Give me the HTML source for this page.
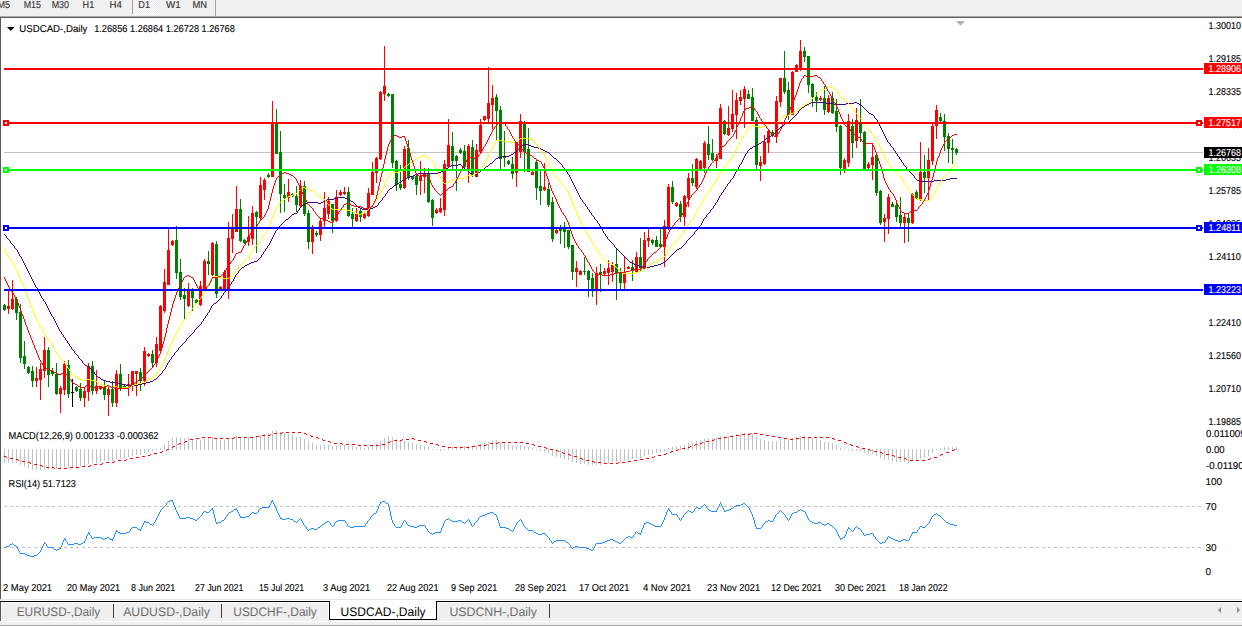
<!DOCTYPE html><html><head><meta charset="utf-8"><title>USDCAD-,Daily</title><style>
html,body{margin:0;padding:0;width:1242px;height:626px;overflow:hidden;background:#fff}
svg{display:block}text{font-family:"Liberation Sans",sans-serif;text-rendering:geometricPrecision;stroke:currentColor;stroke-width:0.12px;paint-order:stroke}
</style></head><body>
<svg width="1242" height="626" viewBox="0 0 1242 626">
<rect x="0" y="0" width="1242" height="626" fill="#fff"/>
<g shape-rendering="crispEdges">
<rect x="0" y="0" width="1242" height="16" fill="#f0f0f0"/>
<defs><pattern id="dith" x="0" y="0" width="2" height="2" patternUnits="userSpaceOnUse"><rect width="2" height="2" fill="#fbfbfb"/><rect width="1" height="1" fill="#ebebeb"/><rect x="1" y="1" width="1" height="1" fill="#ebebeb"/></pattern></defs>
<rect x="133" y="0" width="24" height="14" fill="url(#dith)"/>
<rect x="133" y="14" width="25" height="1" fill="#ffffff"/>
<rect x="132" y="0" width="1" height="14" fill="#a0a0a0"/>
<rect x="215" y="0" width="1" height="16" fill="#a0a0a0"/>
<rect x="0" y="16" width="1242" height="1" fill="#a8a8a8"/>
<rect x="0" y="17" width="1242" height="1" fill="#5f5f5f"/>
</g>
<text x="-2.5" y="8" font-size="10" fill="#303030" color="#303030" textLength="12.6" lengthAdjust="spacingAndGlyphs">M5</text>
<text x="23.7" y="8" font-size="10" fill="#303030" color="#303030" textLength="17.3" lengthAdjust="spacingAndGlyphs">M15</text>
<text x="51.7" y="8" font-size="10" fill="#303030" color="#303030" textLength="17.3" lengthAdjust="spacingAndGlyphs">M30</text>
<text x="82.6" y="8" font-size="10" fill="#303030" color="#303030" textLength="11.6" lengthAdjust="spacingAndGlyphs">H1</text>
<text x="109.6" y="8" font-size="10" fill="#303030" color="#303030" textLength="12.4" lengthAdjust="spacingAndGlyphs">H4</text>
<text x="138.3" y="8" font-size="10" fill="#303030" color="#303030" textLength="11.7" lengthAdjust="spacingAndGlyphs">D1</text>
<text x="166" y="8" font-size="10" fill="#303030" color="#303030" textLength="14.6" lengthAdjust="spacingAndGlyphs">W1</text>
<text x="192.4" y="8" font-size="10" fill="#303030" color="#303030" textLength="14.6" lengthAdjust="spacingAndGlyphs">MN</text>
<rect x="0" y="18" width="1" height="584" fill="#5a5a5a" shape-rendering="crispEdges"/>
<path d="M7 27 L14.5 27 L10.75 31 Z" fill="#000"/>
<text x="19.3" y="32" font-size="10" fill="#000" color="#000" textLength="68.1" lengthAdjust="spacingAndGlyphs">USDCAD-,Daily</text>
<text x="94.2" y="32" font-size="10" fill="#000" color="#000" textLength="140.6" lengthAdjust="spacingAndGlyphs">1.26856 1.26864 1.26728 1.26768</text>
<path d="M956 21 L965 21 L960.5 25.8 Z" fill="#b4b4b4"/>
<text x="1208.6" y="29" font-size="10" fill="#000" color="#000" textLength="32.3" lengthAdjust="spacingAndGlyphs">1.30010</text>
<text x="1208.6" y="62" font-size="10" fill="#000" color="#000" textLength="32.3" lengthAdjust="spacingAndGlyphs">1.29185</text>
<text x="1208.6" y="95" font-size="10" fill="#000" color="#000" textLength="32.3" lengthAdjust="spacingAndGlyphs">1.28335</text>
<text x="1208.6" y="128" font-size="10" fill="#000" color="#000" textLength="32.3" lengthAdjust="spacingAndGlyphs">1.27485</text>
<text x="1208.6" y="161" font-size="10" fill="#000" color="#000" textLength="32.3" lengthAdjust="spacingAndGlyphs">1.26635</text>
<text x="1208.6" y="194" font-size="10" fill="#000" color="#000" textLength="32.3" lengthAdjust="spacingAndGlyphs">1.25785</text>
<text x="1208.6" y="227" font-size="10" fill="#000" color="#000" textLength="32.3" lengthAdjust="spacingAndGlyphs">1.24935</text>
<text x="1208.6" y="260" font-size="10" fill="#000" color="#000" textLength="32.3" lengthAdjust="spacingAndGlyphs">1.24110</text>
<text x="1208.6" y="293" font-size="10" fill="#000" color="#000" textLength="32.3" lengthAdjust="spacingAndGlyphs">1.23260</text>
<text x="1208.6" y="326" font-size="10" fill="#000" color="#000" textLength="32.3" lengthAdjust="spacingAndGlyphs">1.22410</text>
<text x="1208.6" y="359" font-size="10" fill="#000" color="#000" textLength="32.3" lengthAdjust="spacingAndGlyphs">1.21560</text>
<text x="1208.6" y="392" font-size="10" fill="#000" color="#000" textLength="32.3" lengthAdjust="spacingAndGlyphs">1.20710</text>
<text x="1208.6" y="425" font-size="10" fill="#000" color="#000" textLength="32.3" lengthAdjust="spacingAndGlyphs">1.19885</text>
<rect x="4" y="152" width="1199" height="1" fill="#c0c0c0" shape-rendering="crispEdges"/>
<g shape-rendering="crispEdges">
<rect x="4" y="304" width="1" height="7" fill="#008000"/>
<rect x="3" y="305" width="3" height="5" fill="#008000"/>
<rect x="8" y="290" width="1" height="24" fill="#ff0000"/>
<rect x="7" y="306" width="3" height="3" fill="#ff0000"/>
<rect x="12" y="280" width="1" height="30" fill="#ff0000"/>
<rect x="11" y="299" width="3" height="10" fill="#ff0000"/>
<rect x="16" y="297" width="1" height="23" fill="#008000"/>
<rect x="15" y="299" width="3" height="14" fill="#008000"/>
<rect x="20" y="304" width="1" height="59" fill="#008000"/>
<rect x="19" y="312" width="3" height="46" fill="#008000"/>
<rect x="24" y="341" width="1" height="28" fill="#008000"/>
<rect x="23" y="356" width="3" height="8" fill="#008000"/>
<rect x="28" y="366" width="1" height="8" fill="#008000"/>
<rect x="27" y="367" width="3" height="6" fill="#008000"/>
<rect x="32" y="366" width="1" height="21" fill="#008000"/>
<rect x="31" y="371" width="3" height="10" fill="#008000"/>
<rect x="36" y="367" width="1" height="20" fill="#ff0000"/>
<rect x="35" y="378" width="3" height="3" fill="#ff0000"/>
<rect x="40" y="363" width="1" height="37" fill="#ff0000"/>
<rect x="39" y="369" width="3" height="11" fill="#ff0000"/>
<rect x="44" y="337" width="1" height="41" fill="#ff0000"/>
<rect x="43" y="350" width="3" height="21" fill="#ff0000"/>
<rect x="48" y="347" width="1" height="40" fill="#008000"/>
<rect x="47" y="350" width="3" height="25" fill="#008000"/>
<rect x="52" y="368" width="1" height="8" fill="#008000"/>
<rect x="51" y="371" width="3" height="3" fill="#008000"/>
<rect x="56" y="363" width="1" height="32" fill="#008000"/>
<rect x="55" y="374" width="3" height="20" fill="#008000"/>
<rect x="60" y="386" width="1" height="27" fill="#ff0000"/>
<rect x="59" y="388" width="3" height="6" fill="#ff0000"/>
<rect x="64" y="361" width="1" height="34" fill="#ff0000"/>
<rect x="63" y="364" width="3" height="26" fill="#ff0000"/>
<rect x="68" y="360" width="1" height="38" fill="#008000"/>
<rect x="67" y="365" width="3" height="29" fill="#008000"/>
<rect x="72" y="379" width="1" height="28" fill="#000000"/>
<rect x="71" y="392" width="3" height="1" fill="#000000"/>
<rect x="76" y="386" width="1" height="6" fill="#008000"/>
<rect x="75" y="387" width="3" height="4" fill="#008000"/>
<rect x="80" y="383" width="1" height="18" fill="#008000"/>
<rect x="79" y="389" width="3" height="9" fill="#008000"/>
<rect x="84" y="387" width="1" height="20" fill="#ff0000"/>
<rect x="83" y="391" width="3" height="7" fill="#ff0000"/>
<rect x="88" y="363" width="1" height="38" fill="#ff0000"/>
<rect x="87" y="366" width="3" height="26" fill="#ff0000"/>
<rect x="92" y="361" width="1" height="34" fill="#008000"/>
<rect x="91" y="366" width="3" height="25" fill="#008000"/>
<rect x="96" y="370" width="1" height="24" fill="#ff0000"/>
<rect x="95" y="386" width="3" height="5" fill="#ff0000"/>
<rect x="100" y="386" width="1" height="4" fill="#ff0000"/>
<rect x="99" y="386" width="3" height="3" fill="#ff0000"/>
<rect x="104" y="381" width="1" height="19" fill="#008000"/>
<rect x="103" y="387" width="3" height="8" fill="#008000"/>
<rect x="108" y="385" width="1" height="31" fill="#ff0000"/>
<rect x="107" y="389" width="3" height="6" fill="#ff0000"/>
<rect x="112" y="381" width="1" height="26" fill="#008000"/>
<rect x="111" y="389" width="3" height="14" fill="#008000"/>
<rect x="116" y="370" width="1" height="37" fill="#ff0000"/>
<rect x="115" y="374" width="3" height="29" fill="#ff0000"/>
<rect x="120" y="364" width="1" height="27" fill="#008000"/>
<rect x="119" y="374" width="3" height="15" fill="#008000"/>
<rect x="124" y="384" width="1" height="5" fill="#008000"/>
<rect x="123" y="386" width="3" height="2" fill="#008000"/>
<rect x="128" y="374" width="1" height="22" fill="#ff0000"/>
<rect x="127" y="384" width="3" height="2" fill="#ff0000"/>
<rect x="132" y="371" width="1" height="20" fill="#ff0000"/>
<rect x="131" y="371" width="3" height="14" fill="#ff0000"/>
<rect x="136" y="371" width="1" height="25" fill="#ff0000"/>
<rect x="135" y="371" width="3" height="3" fill="#ff0000"/>
<rect x="140" y="368" width="1" height="23" fill="#008000"/>
<rect x="139" y="372" width="3" height="9" fill="#008000"/>
<rect x="144" y="347" width="1" height="39" fill="#ff0000"/>
<rect x="143" y="351" width="3" height="30" fill="#ff0000"/>
<rect x="148" y="353" width="1" height="4" fill="#ff0000"/>
<rect x="147" y="354" width="3" height="2" fill="#ff0000"/>
<rect x="152" y="350" width="1" height="17" fill="#008000"/>
<rect x="151" y="354" width="3" height="9" fill="#008000"/>
<rect x="156" y="337" width="1" height="30" fill="#ff0000"/>
<rect x="155" y="344" width="3" height="19" fill="#ff0000"/>
<rect x="160" y="305" width="1" height="47" fill="#ff0000"/>
<rect x="159" y="306" width="3" height="45" fill="#ff0000"/>
<rect x="164" y="269" width="1" height="44" fill="#ff0000"/>
<rect x="163" y="282" width="3" height="29" fill="#ff0000"/>
<rect x="168" y="229" width="1" height="56" fill="#ff0000"/>
<rect x="167" y="250" width="3" height="35" fill="#ff0000"/>
<rect x="172" y="240" width="1" height="6" fill="#ff0000"/>
<rect x="171" y="241" width="3" height="4" fill="#ff0000"/>
<rect x="176" y="226" width="1" height="53" fill="#008000"/>
<rect x="175" y="240" width="3" height="33" fill="#008000"/>
<rect x="180" y="259" width="1" height="41" fill="#008000"/>
<rect x="179" y="272" width="3" height="25" fill="#008000"/>
<rect x="184" y="288" width="1" height="32" fill="#008000"/>
<rect x="183" y="295" width="3" height="4" fill="#008000"/>
<rect x="188" y="283" width="1" height="24" fill="#ff0000"/>
<rect x="187" y="291" width="3" height="15" fill="#ff0000"/>
<rect x="192" y="288" width="1" height="23" fill="#008000"/>
<rect x="191" y="291" width="3" height="7" fill="#008000"/>
<rect x="196" y="299" width="1" height="5" fill="#008000"/>
<rect x="195" y="300" width="3" height="3" fill="#008000"/>
<rect x="200" y="281" width="1" height="25" fill="#ff0000"/>
<rect x="199" y="286" width="3" height="19" fill="#ff0000"/>
<rect x="204" y="259" width="1" height="30" fill="#ff0000"/>
<rect x="203" y="261" width="3" height="28" fill="#ff0000"/>
<rect x="208" y="251" width="1" height="24" fill="#008000"/>
<rect x="207" y="261" width="3" height="3" fill="#008000"/>
<rect x="212" y="242" width="1" height="34" fill="#ff0000"/>
<rect x="211" y="243" width="3" height="32" fill="#ff0000"/>
<rect x="216" y="241" width="1" height="57" fill="#008000"/>
<rect x="215" y="244" width="3" height="50" fill="#008000"/>
<rect x="220" y="286" width="1" height="5" fill="#ff0000"/>
<rect x="219" y="287" width="3" height="3" fill="#ff0000"/>
<rect x="224" y="270" width="1" height="20" fill="#ff0000"/>
<rect x="223" y="272" width="3" height="17" fill="#ff0000"/>
<rect x="228" y="222" width="1" height="77" fill="#ff0000"/>
<rect x="227" y="238" width="3" height="53" fill="#ff0000"/>
<rect x="232" y="214" width="1" height="39" fill="#ff0000"/>
<rect x="231" y="229" width="3" height="10" fill="#ff0000"/>
<rect x="236" y="186" width="1" height="46" fill="#ff0000"/>
<rect x="235" y="209" width="3" height="23" fill="#ff0000"/>
<rect x="240" y="199" width="1" height="43" fill="#008000"/>
<rect x="239" y="209" width="3" height="32" fill="#008000"/>
<rect x="244" y="239" width="1" height="5" fill="#008000"/>
<rect x="243" y="240" width="3" height="3" fill="#008000"/>
<rect x="248" y="216" width="1" height="30" fill="#ff0000"/>
<rect x="247" y="237" width="3" height="5" fill="#ff0000"/>
<rect x="252" y="206" width="1" height="39" fill="#ff0000"/>
<rect x="251" y="213" width="3" height="26" fill="#ff0000"/>
<rect x="256" y="211" width="1" height="42" fill="#008000"/>
<rect x="255" y="212" width="3" height="5" fill="#008000"/>
<rect x="260" y="177" width="1" height="44" fill="#ff0000"/>
<rect x="259" y="185" width="3" height="33" fill="#ff0000"/>
<rect x="264" y="178" width="1" height="22" fill="#ff0000"/>
<rect x="263" y="180" width="3" height="10" fill="#ff0000"/>
<rect x="268" y="173" width="1" height="5" fill="#008000"/>
<rect x="267" y="175" width="3" height="2" fill="#008000"/>
<rect x="272" y="101" width="1" height="76" fill="#ff0000"/>
<rect x="271" y="123" width="3" height="54" fill="#ff0000"/>
<rect x="276" y="109" width="1" height="45" fill="#008000"/>
<rect x="275" y="124" width="3" height="30" fill="#008000"/>
<rect x="280" y="131" width="1" height="82" fill="#008000"/>
<rect x="279" y="152" width="3" height="42" fill="#008000"/>
<rect x="284" y="184" width="1" height="28" fill="#008000"/>
<rect x="283" y="195" width="3" height="3" fill="#008000"/>
<rect x="288" y="179" width="1" height="23" fill="#ff0000"/>
<rect x="287" y="192" width="3" height="6" fill="#ff0000"/>
<rect x="292" y="193" width="1" height="4" fill="#008000"/>
<rect x="291" y="194" width="3" height="2" fill="#008000"/>
<rect x="296" y="186" width="1" height="26" fill="#008000"/>
<rect x="295" y="196" width="3" height="9" fill="#008000"/>
<rect x="300" y="180" width="1" height="27" fill="#ff0000"/>
<rect x="299" y="186" width="3" height="20" fill="#ff0000"/>
<rect x="304" y="181" width="1" height="35" fill="#008000"/>
<rect x="303" y="186" width="3" height="28" fill="#008000"/>
<rect x="308" y="210" width="1" height="39" fill="#008000"/>
<rect x="307" y="213" width="3" height="29" fill="#008000"/>
<rect x="312" y="225" width="1" height="29" fill="#ff0000"/>
<rect x="311" y="228" width="3" height="14" fill="#ff0000"/>
<rect x="316" y="231" width="1" height="6" fill="#008000"/>
<rect x="315" y="233" width="3" height="2" fill="#008000"/>
<rect x="320" y="218" width="1" height="23" fill="#ff0000"/>
<rect x="319" y="221" width="3" height="14" fill="#ff0000"/>
<rect x="324" y="192" width="1" height="35" fill="#ff0000"/>
<rect x="323" y="208" width="3" height="13" fill="#ff0000"/>
<rect x="328" y="197" width="1" height="22" fill="#ff0000"/>
<rect x="327" y="201" width="3" height="13" fill="#ff0000"/>
<rect x="332" y="204" width="1" height="29" fill="#008000"/>
<rect x="331" y="204" width="3" height="17" fill="#008000"/>
<rect x="336" y="190" width="1" height="32" fill="#ff0000"/>
<rect x="335" y="197" width="3" height="24" fill="#ff0000"/>
<rect x="340" y="190" width="1" height="6" fill="#ff0000"/>
<rect x="339" y="192" width="3" height="3" fill="#ff0000"/>
<rect x="344" y="187" width="1" height="8" fill="#ff0000"/>
<rect x="343" y="192" width="3" height="2" fill="#ff0000"/>
<rect x="348" y="187" width="1" height="30" fill="#008000"/>
<rect x="347" y="192" width="3" height="24" fill="#008000"/>
<rect x="352" y="208" width="1" height="19" fill="#008000"/>
<rect x="351" y="214" width="3" height="5" fill="#008000"/>
<rect x="356" y="208" width="1" height="14" fill="#ff0000"/>
<rect x="355" y="214" width="3" height="7" fill="#ff0000"/>
<rect x="360" y="208" width="1" height="14" fill="#008000"/>
<rect x="359" y="211" width="3" height="6" fill="#008000"/>
<rect x="364" y="213" width="1" height="6" fill="#ff0000"/>
<rect x="363" y="214" width="3" height="4" fill="#ff0000"/>
<rect x="368" y="188" width="1" height="29" fill="#ff0000"/>
<rect x="367" y="193" width="3" height="23" fill="#ff0000"/>
<rect x="372" y="162" width="1" height="33" fill="#ff0000"/>
<rect x="371" y="172" width="3" height="23" fill="#ff0000"/>
<rect x="376" y="157" width="1" height="26" fill="#ff0000"/>
<rect x="375" y="158" width="3" height="15" fill="#ff0000"/>
<rect x="380" y="91" width="1" height="69" fill="#ff0000"/>
<rect x="379" y="92" width="3" height="67" fill="#ff0000"/>
<rect x="384" y="46" width="1" height="55" fill="#ff0000"/>
<rect x="383" y="86" width="3" height="8" fill="#ff0000"/>
<rect x="388" y="93" width="1" height="4" fill="#008000"/>
<rect x="387" y="94" width="3" height="2" fill="#008000"/>
<rect x="392" y="94" width="1" height="74" fill="#008000"/>
<rect x="391" y="94" width="3" height="69" fill="#008000"/>
<rect x="396" y="160" width="1" height="31" fill="#008000"/>
<rect x="395" y="161" width="3" height="24" fill="#008000"/>
<rect x="400" y="165" width="1" height="25" fill="#008000"/>
<rect x="399" y="184" width="3" height="4" fill="#008000"/>
<rect x="404" y="146" width="1" height="43" fill="#ff0000"/>
<rect x="403" y="149" width="3" height="39" fill="#ff0000"/>
<rect x="408" y="140" width="1" height="40" fill="#008000"/>
<rect x="407" y="148" width="3" height="29" fill="#008000"/>
<rect x="412" y="176" width="1" height="4" fill="#008000"/>
<rect x="411" y="176" width="3" height="3" fill="#008000"/>
<rect x="416" y="173" width="1" height="22" fill="#008000"/>
<rect x="415" y="176" width="3" height="9" fill="#008000"/>
<rect x="420" y="161" width="1" height="34" fill="#ff0000"/>
<rect x="419" y="176" width="3" height="5" fill="#ff0000"/>
<rect x="424" y="168" width="1" height="25" fill="#ff0000"/>
<rect x="423" y="174" width="3" height="3" fill="#ff0000"/>
<rect x="428" y="168" width="1" height="35" fill="#008000"/>
<rect x="427" y="173" width="3" height="29" fill="#008000"/>
<rect x="432" y="199" width="1" height="27" fill="#008000"/>
<rect x="431" y="200" width="3" height="18" fill="#008000"/>
<rect x="436" y="208" width="1" height="6" fill="#ff0000"/>
<rect x="435" y="210" width="3" height="3" fill="#ff0000"/>
<rect x="440" y="198" width="1" height="15" fill="#ff0000"/>
<rect x="439" y="208" width="3" height="4" fill="#ff0000"/>
<rect x="444" y="160" width="1" height="56" fill="#ff0000"/>
<rect x="443" y="164" width="3" height="46" fill="#ff0000"/>
<rect x="448" y="119" width="1" height="49" fill="#ff0000"/>
<rect x="447" y="145" width="3" height="22" fill="#ff0000"/>
<rect x="452" y="132" width="1" height="38" fill="#008000"/>
<rect x="451" y="146" width="3" height="15" fill="#008000"/>
<rect x="456" y="155" width="1" height="36" fill="#008000"/>
<rect x="455" y="156" width="3" height="5" fill="#008000"/>
<rect x="460" y="148" width="1" height="6" fill="#008000"/>
<rect x="459" y="150" width="3" height="3" fill="#008000"/>
<rect x="464" y="145" width="1" height="23" fill="#008000"/>
<rect x="463" y="151" width="3" height="16" fill="#008000"/>
<rect x="468" y="144" width="1" height="39" fill="#ff0000"/>
<rect x="467" y="146" width="3" height="25" fill="#ff0000"/>
<rect x="472" y="140" width="1" height="37" fill="#008000"/>
<rect x="471" y="147" width="3" height="28" fill="#008000"/>
<rect x="476" y="144" width="1" height="33" fill="#ff0000"/>
<rect x="475" y="150" width="3" height="27" fill="#ff0000"/>
<rect x="480" y="119" width="1" height="35" fill="#ff0000"/>
<rect x="479" y="125" width="3" height="27" fill="#ff0000"/>
<rect x="484" y="116" width="1" height="5" fill="#ff0000"/>
<rect x="483" y="116" width="3" height="4" fill="#ff0000"/>
<rect x="488" y="67" width="1" height="55" fill="#ff0000"/>
<rect x="487" y="103" width="3" height="16" fill="#ff0000"/>
<rect x="492" y="85" width="1" height="44" fill="#ff0000"/>
<rect x="491" y="98" width="3" height="7" fill="#ff0000"/>
<rect x="496" y="94" width="1" height="46" fill="#008000"/>
<rect x="495" y="97" width="3" height="14" fill="#008000"/>
<rect x="500" y="106" width="1" height="64" fill="#008000"/>
<rect x="499" y="110" width="3" height="49" fill="#008000"/>
<rect x="504" y="131" width="1" height="36" fill="#008000"/>
<rect x="503" y="157" width="3" height="1" fill="#008000"/>
<rect x="508" y="160" width="1" height="5" fill="#008000"/>
<rect x="507" y="161" width="3" height="3" fill="#008000"/>
<rect x="512" y="157" width="1" height="22" fill="#008000"/>
<rect x="511" y="164" width="3" height="10" fill="#008000"/>
<rect x="516" y="141" width="1" height="46" fill="#ff0000"/>
<rect x="515" y="142" width="3" height="31" fill="#ff0000"/>
<rect x="520" y="114" width="1" height="44" fill="#ff0000"/>
<rect x="519" y="121" width="3" height="31" fill="#ff0000"/>
<rect x="524" y="121" width="1" height="51" fill="#008000"/>
<rect x="523" y="124" width="3" height="28" fill="#008000"/>
<rect x="528" y="128" width="1" height="44" fill="#008000"/>
<rect x="527" y="149" width="3" height="23" fill="#008000"/>
<rect x="532" y="171" width="1" height="4" fill="#ff0000"/>
<rect x="531" y="172" width="3" height="3" fill="#ff0000"/>
<rect x="536" y="160" width="1" height="40" fill="#008000"/>
<rect x="535" y="162" width="3" height="26" fill="#008000"/>
<rect x="540" y="171" width="1" height="34" fill="#008000"/>
<rect x="539" y="186" width="3" height="5" fill="#008000"/>
<rect x="544" y="163" width="1" height="28" fill="#ff0000"/>
<rect x="543" y="187" width="3" height="3" fill="#ff0000"/>
<rect x="548" y="183" width="1" height="24" fill="#008000"/>
<rect x="547" y="189" width="3" height="16" fill="#008000"/>
<rect x="552" y="197" width="1" height="45" fill="#008000"/>
<rect x="551" y="202" width="3" height="37" fill="#008000"/>
<rect x="556" y="229" width="1" height="5" fill="#ff0000"/>
<rect x="555" y="230" width="3" height="3" fill="#ff0000"/>
<rect x="560" y="225" width="1" height="19" fill="#008000"/>
<rect x="559" y="228" width="3" height="3" fill="#008000"/>
<rect x="564" y="222" width="1" height="26" fill="#008000"/>
<rect x="563" y="229" width="3" height="3" fill="#008000"/>
<rect x="568" y="230" width="1" height="19" fill="#008000"/>
<rect x="567" y="230" width="3" height="17" fill="#008000"/>
<rect x="572" y="245" width="1" height="35" fill="#008000"/>
<rect x="571" y="245" width="3" height="27" fill="#008000"/>
<rect x="576" y="261" width="1" height="26" fill="#ff0000"/>
<rect x="575" y="268" width="3" height="4" fill="#ff0000"/>
<rect x="580" y="270" width="1" height="5" fill="#ff0000"/>
<rect x="579" y="271" width="3" height="4" fill="#ff0000"/>
<rect x="584" y="257" width="1" height="18" fill="#008000"/>
<rect x="583" y="271" width="3" height="1" fill="#008000"/>
<rect x="588" y="270" width="1" height="27" fill="#008000"/>
<rect x="587" y="271" width="3" height="9" fill="#008000"/>
<rect x="592" y="273" width="1" height="24" fill="#008000"/>
<rect x="591" y="278" width="3" height="12" fill="#008000"/>
<rect x="596" y="267" width="1" height="38" fill="#ff0000"/>
<rect x="595" y="273" width="3" height="17" fill="#ff0000"/>
<rect x="600" y="264" width="1" height="28" fill="#008000"/>
<rect x="599" y="272" width="3" height="3" fill="#008000"/>
<rect x="604" y="268" width="1" height="7" fill="#ff0000"/>
<rect x="603" y="271" width="3" height="3" fill="#ff0000"/>
<rect x="608" y="260" width="1" height="25" fill="#ff0000"/>
<rect x="607" y="268" width="3" height="5" fill="#ff0000"/>
<rect x="612" y="262" width="1" height="20" fill="#ff0000"/>
<rect x="611" y="265" width="3" height="7" fill="#ff0000"/>
<rect x="616" y="249" width="1" height="51" fill="#008000"/>
<rect x="615" y="264" width="3" height="10" fill="#008000"/>
<rect x="620" y="268" width="1" height="21" fill="#008000"/>
<rect x="619" y="273" width="3" height="10" fill="#008000"/>
<rect x="624" y="257" width="1" height="32" fill="#ff0000"/>
<rect x="623" y="273" width="3" height="10" fill="#ff0000"/>
<rect x="628" y="266" width="1" height="3" fill="#ff0000"/>
<rect x="627" y="267" width="3" height="2" fill="#ff0000"/>
<rect x="632" y="260" width="1" height="21" fill="#008000"/>
<rect x="631" y="267" width="3" height="4" fill="#008000"/>
<rect x="636" y="252" width="1" height="21" fill="#ff0000"/>
<rect x="635" y="257" width="3" height="15" fill="#ff0000"/>
<rect x="640" y="238" width="1" height="34" fill="#008000"/>
<rect x="639" y="257" width="3" height="11" fill="#008000"/>
<rect x="644" y="232" width="1" height="38" fill="#ff0000"/>
<rect x="643" y="240" width="3" height="29" fill="#ff0000"/>
<rect x="648" y="229" width="1" height="18" fill="#ff0000"/>
<rect x="647" y="238" width="3" height="3" fill="#ff0000"/>
<rect x="652" y="239" width="1" height="6" fill="#008000"/>
<rect x="651" y="240" width="3" height="3" fill="#008000"/>
<rect x="656" y="236" width="1" height="11" fill="#008000"/>
<rect x="655" y="240" width="3" height="7" fill="#008000"/>
<rect x="660" y="229" width="1" height="19" fill="#008000"/>
<rect x="659" y="244" width="3" height="3" fill="#008000"/>
<rect x="664" y="220" width="1" height="47" fill="#ff0000"/>
<rect x="663" y="226" width="3" height="21" fill="#ff0000"/>
<rect x="668" y="184" width="1" height="46" fill="#ff0000"/>
<rect x="667" y="187" width="3" height="41" fill="#ff0000"/>
<rect x="672" y="181" width="1" height="23" fill="#008000"/>
<rect x="671" y="187" width="3" height="15" fill="#008000"/>
<rect x="676" y="202" width="1" height="5" fill="#ff0000"/>
<rect x="675" y="203" width="3" height="3" fill="#ff0000"/>
<rect x="680" y="201" width="1" height="21" fill="#008000"/>
<rect x="679" y="204" width="3" height="13" fill="#008000"/>
<rect x="684" y="195" width="1" height="31" fill="#ff0000"/>
<rect x="683" y="196" width="3" height="21" fill="#ff0000"/>
<rect x="688" y="173" width="1" height="34" fill="#ff0000"/>
<rect x="687" y="178" width="3" height="20" fill="#ff0000"/>
<rect x="692" y="164" width="1" height="22" fill="#008000"/>
<rect x="691" y="178" width="3" height="5" fill="#008000"/>
<rect x="696" y="158" width="1" height="31" fill="#ff0000"/>
<rect x="695" y="159" width="3" height="28" fill="#ff0000"/>
<rect x="700" y="160" width="1" height="9" fill="#ff0000"/>
<rect x="699" y="161" width="3" height="8" fill="#ff0000"/>
<rect x="704" y="141" width="1" height="32" fill="#ff0000"/>
<rect x="703" y="143" width="3" height="25" fill="#ff0000"/>
<rect x="708" y="126" width="1" height="34" fill="#008000"/>
<rect x="707" y="144" width="3" height="11" fill="#008000"/>
<rect x="712" y="139" width="1" height="22" fill="#008000"/>
<rect x="711" y="153" width="3" height="7" fill="#008000"/>
<rect x="716" y="154" width="1" height="14" fill="#ff0000"/>
<rect x="715" y="158" width="3" height="3" fill="#ff0000"/>
<rect x="720" y="104" width="1" height="55" fill="#ff0000"/>
<rect x="719" y="108" width="3" height="51" fill="#ff0000"/>
<rect x="724" y="120" width="1" height="15" fill="#008000"/>
<rect x="723" y="121" width="3" height="13" fill="#008000"/>
<rect x="728" y="106" width="1" height="30" fill="#ff0000"/>
<rect x="727" y="128" width="3" height="7" fill="#ff0000"/>
<rect x="732" y="90" width="1" height="42" fill="#ff0000"/>
<rect x="731" y="114" width="3" height="15" fill="#ff0000"/>
<rect x="736" y="93" width="1" height="46" fill="#ff0000"/>
<rect x="735" y="100" width="3" height="15" fill="#ff0000"/>
<rect x="740" y="90" width="1" height="15" fill="#ff0000"/>
<rect x="739" y="97" width="3" height="4" fill="#ff0000"/>
<rect x="744" y="86" width="1" height="42" fill="#ff0000"/>
<rect x="743" y="89" width="3" height="10" fill="#ff0000"/>
<rect x="748" y="90" width="1" height="9" fill="#008000"/>
<rect x="747" y="94" width="3" height="5" fill="#008000"/>
<rect x="752" y="88" width="1" height="33" fill="#008000"/>
<rect x="751" y="97" width="3" height="24" fill="#008000"/>
<rect x="756" y="117" width="1" height="52" fill="#008000"/>
<rect x="755" y="120" width="3" height="45" fill="#008000"/>
<rect x="760" y="156" width="1" height="25" fill="#ff0000"/>
<rect x="759" y="162" width="3" height="4" fill="#ff0000"/>
<rect x="764" y="135" width="1" height="30" fill="#ff0000"/>
<rect x="763" y="142" width="3" height="22" fill="#ff0000"/>
<rect x="768" y="130" width="1" height="23" fill="#ff0000"/>
<rect x="767" y="131" width="3" height="12" fill="#ff0000"/>
<rect x="772" y="130" width="1" height="7" fill="#008000"/>
<rect x="771" y="132" width="3" height="4" fill="#008000"/>
<rect x="776" y="96" width="1" height="47" fill="#ff0000"/>
<rect x="775" y="101" width="3" height="36" fill="#ff0000"/>
<rect x="780" y="78" width="1" height="29" fill="#ff0000"/>
<rect x="779" y="78" width="3" height="24" fill="#ff0000"/>
<rect x="784" y="51" width="1" height="43" fill="#008000"/>
<rect x="783" y="78" width="3" height="14" fill="#008000"/>
<rect x="788" y="82" width="1" height="38" fill="#008000"/>
<rect x="787" y="90" width="3" height="24" fill="#008000"/>
<rect x="792" y="71" width="1" height="44" fill="#ff0000"/>
<rect x="791" y="72" width="3" height="43" fill="#ff0000"/>
<rect x="796" y="64" width="1" height="8" fill="#ff0000"/>
<rect x="795" y="65" width="3" height="7" fill="#ff0000"/>
<rect x="800" y="40" width="1" height="31" fill="#ff0000"/>
<rect x="799" y="51" width="3" height="17" fill="#ff0000"/>
<rect x="804" y="47" width="1" height="15" fill="#008000"/>
<rect x="803" y="51" width="3" height="6" fill="#008000"/>
<rect x="808" y="56" width="1" height="37" fill="#008000"/>
<rect x="807" y="56" width="3" height="29" fill="#008000"/>
<rect x="812" y="83" width="1" height="24" fill="#008000"/>
<rect x="811" y="84" width="3" height="13" fill="#008000"/>
<rect x="816" y="92" width="1" height="20" fill="#008000"/>
<rect x="815" y="97" width="3" height="4" fill="#008000"/>
<rect x="820" y="96" width="1" height="5" fill="#ff0000"/>
<rect x="819" y="98" width="3" height="2" fill="#ff0000"/>
<rect x="824" y="86" width="1" height="29" fill="#008000"/>
<rect x="823" y="98" width="3" height="12" fill="#008000"/>
<rect x="828" y="95" width="1" height="18" fill="#ff0000"/>
<rect x="827" y="98" width="3" height="14" fill="#ff0000"/>
<rect x="832" y="92" width="1" height="22" fill="#008000"/>
<rect x="831" y="98" width="3" height="15" fill="#008000"/>
<rect x="836" y="99" width="1" height="33" fill="#008000"/>
<rect x="835" y="111" width="3" height="16" fill="#008000"/>
<rect x="840" y="125" width="1" height="50" fill="#008000"/>
<rect x="839" y="126" width="3" height="42" fill="#008000"/>
<rect x="844" y="158" width="1" height="15" fill="#ff0000"/>
<rect x="843" y="160" width="3" height="9" fill="#ff0000"/>
<rect x="848" y="114" width="1" height="53" fill="#ff0000"/>
<rect x="847" y="121" width="3" height="42" fill="#ff0000"/>
<rect x="852" y="119" width="1" height="39" fill="#008000"/>
<rect x="851" y="126" width="3" height="17" fill="#008000"/>
<rect x="856" y="108" width="1" height="40" fill="#ff0000"/>
<rect x="855" y="120" width="3" height="21" fill="#ff0000"/>
<rect x="860" y="99" width="1" height="43" fill="#008000"/>
<rect x="859" y="122" width="3" height="11" fill="#008000"/>
<rect x="864" y="131" width="1" height="40" fill="#008000"/>
<rect x="863" y="132" width="3" height="37" fill="#008000"/>
<rect x="868" y="162" width="1" height="7" fill="#ff0000"/>
<rect x="867" y="164" width="3" height="4" fill="#ff0000"/>
<rect x="872" y="145" width="1" height="35" fill="#ff0000"/>
<rect x="871" y="157" width="3" height="8" fill="#ff0000"/>
<rect x="876" y="153" width="1" height="43" fill="#008000"/>
<rect x="875" y="155" width="3" height="38" fill="#008000"/>
<rect x="880" y="190" width="1" height="35" fill="#008000"/>
<rect x="879" y="191" width="3" height="32" fill="#008000"/>
<rect x="884" y="214" width="1" height="28" fill="#ff0000"/>
<rect x="883" y="218" width="3" height="4" fill="#ff0000"/>
<rect x="888" y="194" width="1" height="40" fill="#ff0000"/>
<rect x="887" y="197" width="3" height="22" fill="#ff0000"/>
<rect x="892" y="202" width="1" height="5" fill="#008000"/>
<rect x="891" y="204" width="3" height="3" fill="#008000"/>
<rect x="896" y="201" width="1" height="21" fill="#008000"/>
<rect x="895" y="205" width="3" height="12" fill="#008000"/>
<rect x="900" y="197" width="1" height="31" fill="#008000"/>
<rect x="899" y="215" width="3" height="8" fill="#008000"/>
<rect x="904" y="213" width="1" height="30" fill="#ff0000"/>
<rect x="903" y="217" width="3" height="6" fill="#ff0000"/>
<rect x="908" y="214" width="1" height="28" fill="#008000"/>
<rect x="907" y="218" width="3" height="5" fill="#008000"/>
<rect x="912" y="193" width="1" height="31" fill="#ff0000"/>
<rect x="911" y="194" width="3" height="29" fill="#ff0000"/>
<rect x="916" y="190" width="1" height="10" fill="#008000"/>
<rect x="915" y="192" width="3" height="6" fill="#008000"/>
<rect x="920" y="142" width="1" height="59" fill="#ff0000"/>
<rect x="919" y="172" width="3" height="27" fill="#ff0000"/>
<rect x="924" y="155" width="1" height="38" fill="#008000"/>
<rect x="923" y="172" width="3" height="6" fill="#008000"/>
<rect x="928" y="148" width="1" height="52" fill="#ff0000"/>
<rect x="927" y="160" width="3" height="18" fill="#ff0000"/>
<rect x="932" y="124" width="1" height="41" fill="#ff0000"/>
<rect x="931" y="126" width="3" height="35" fill="#ff0000"/>
<rect x="936" y="105" width="1" height="34" fill="#ff0000"/>
<rect x="935" y="110" width="3" height="16" fill="#ff0000"/>
<rect x="940" y="113" width="1" height="10" fill="#008000"/>
<rect x="939" y="117" width="3" height="4" fill="#008000"/>
<rect x="944" y="114" width="1" height="37" fill="#008000"/>
<rect x="943" y="121" width="3" height="16" fill="#008000"/>
<rect x="948" y="133" width="1" height="30" fill="#008000"/>
<rect x="947" y="136" width="3" height="13" fill="#008000"/>
<rect x="952" y="139" width="1" height="25" fill="#008000"/>
<rect x="951" y="148" width="3" height="2" fill="#008000"/>
<rect x="956" y="148" width="1" height="7" fill="#008000"/>
<rect x="955" y="149" width="3" height="4" fill="#008000"/>
</g>
<path d="M811 102h15v1h-15zM854 102h3v1h-3zM809 103h2v1h-2zM826 103h8v1h-8zM846 103h8v1h-8zM857 103h2v1h-2zM807 104h2v1h-2zM834 104h12v1h-12zM859 104h2v1h-2zM805 105h2v1h-2zM861 105h1v1h-1zM804 106h1v1h-1zM862 106h1v1h-1zM802 107h2v1h-2zM863 107h1v1h-1zM801 108h1v1h-1zM864 108h1v1h-1zM800 109h1v1h-1zM865 109h1v1h-1zM799 110h1v1h-1zM866 110h1v1h-1zM798 111h1v1h-1zM867 111h1v1h-1zM798 112h1v1h-1zM868 112h1v1h-1zM797 113h1v1h-1zM869 113h2v1h-2zM796 114h1v1h-1zM871 114h2v1h-2zM795 115h1v1h-1zM873 115h1v1h-1zM794 116h1v1h-1zM874 116h1v1h-1zM793 117h1v1h-1zM874 117h1v1h-1zM792 118h1v1h-1zM875 118h1v1h-1zM791 119h1v1h-1zM876 119h1v1h-1zM790 120h1v1h-1zM877 120h1v1h-1zM789 121h1v1h-1zM877 121h1v1h-1zM787 122h2v1h-2zM878 122h1v1h-1zM785 123h2v1h-2zM878 123h1v1h-1zM784 124h1v1h-1zM879 124h1v1h-1zM782 125h2v1h-2zM879 125h1v1h-1zM781 126h1v1h-1zM880 126h1v1h-1zM780 127h1v1h-1zM880 127h1v1h-1zM779 128h1v1h-1zM881 128h1v1h-1zM778 129h1v1h-1zM881 129h1v1h-1zM777 130h1v1h-1zM882 130h1v1h-1zM776 131h1v1h-1zM882 131h1v1h-1zM775 132h1v1h-1zM883 132h1v1h-1zM774 133h1v1h-1zM883 133h1v1h-1zM773 134h1v1h-1zM884 134h1v1h-1zM771 135h2v1h-2zM884 135h1v1h-1zM769 136h2v1h-2zM885 136h1v1h-1zM768 137h1v1h-1zM885 137h1v1h-1zM766 138h2v1h-2zM886 138h1v1h-1zM765 139h1v1h-1zM886 139h1v1h-1zM764 140h1v1h-1zM887 140h1v1h-1zM762 141h2v1h-2zM887 141h1v1h-1zM761 142h1v1h-1zM888 142h1v1h-1zM759 143h2v1h-2zM889 143h1v1h-1zM524 144h5v1h-5zM757 144h2v1h-2zM890 144h1v1h-1zM522 145h2v1h-2zM529 145h2v1h-2zM755 145h2v1h-2zM890 145h1v1h-1zM521 146h1v1h-1zM531 146h3v1h-3zM753 146h2v1h-2zM891 146h1v1h-1zM520 147h1v1h-1zM534 147h4v1h-4zM752 147h1v1h-1zM892 147h1v1h-1zM519 148h1v1h-1zM538 148h3v1h-3zM750 148h2v1h-2zM893 148h1v1h-1zM518 149h1v1h-1zM541 149h2v1h-2zM749 149h1v1h-1zM893 149h1v1h-1zM517 150h1v1h-1zM543 150h2v1h-2zM748 150h1v1h-1zM894 150h1v1h-1zM516 151h1v1h-1zM545 151h2v1h-2zM747 151h1v1h-1zM895 151h1v1h-1zM514 152h2v1h-2zM547 152h2v1h-2zM747 152h1v1h-1zM895 152h1v1h-1zM513 153h1v1h-1zM549 153h1v1h-1zM746 153h1v1h-1zM896 153h1v1h-1zM511 154h2v1h-2zM550 154h1v1h-1zM745 154h1v1h-1zM897 154h1v1h-1zM509 155h2v1h-2zM551 155h1v1h-1zM745 155h1v1h-1zM897 155h1v1h-1zM502 156h7v1h-7zM552 156h1v1h-1zM744 156h1v1h-1zM898 156h1v1h-1zM498 157h4v1h-4zM553 157h1v1h-1zM744 157h1v1h-1zM899 157h1v1h-1zM496 158h2v1h-2zM554 158h2v1h-2zM743 158h1v1h-1zM899 158h1v1h-1zM495 159h1v1h-1zM556 159h1v1h-1zM743 159h1v1h-1zM900 159h1v1h-1zM494 160h1v1h-1zM557 160h1v1h-1zM742 160h1v1h-1zM901 160h1v1h-1zM493 161h1v1h-1zM558 161h1v1h-1zM742 161h1v1h-1zM901 161h1v1h-1zM492 162h1v1h-1zM559 162h1v1h-1zM741 162h1v1h-1zM902 162h1v1h-1zM490 163h2v1h-2zM560 163h1v1h-1zM741 163h1v1h-1zM903 163h1v1h-1zM458 164h3v1h-3zM489 164h1v1h-1zM561 164h1v1h-1zM740 164h1v1h-1zM903 164h1v1h-1zM451 165h7v1h-7zM461 165h1v1h-1zM488 165h1v1h-1zM562 165h1v1h-1zM739 165h1v1h-1zM904 165h1v1h-1zM449 166h2v1h-2zM462 166h1v1h-1zM486 166h2v1h-2zM562 166h1v1h-1zM739 166h1v1h-1zM905 166h1v1h-1zM448 167h1v1h-1zM463 167h1v1h-1zM485 167h1v1h-1zM563 167h1v1h-1zM738 167h1v1h-1zM906 167h1v1h-1zM446 168h2v1h-2zM464 168h1v1h-1zM484 168h1v1h-1zM564 168h1v1h-1zM738 168h1v1h-1zM906 168h1v1h-1zM445 169h1v1h-1zM465 169h1v1h-1zM482 169h2v1h-2zM565 169h1v1h-1zM737 169h1v1h-1zM907 169h1v1h-1zM443 170h2v1h-2zM466 170h2v1h-2zM481 170h1v1h-1zM565 170h1v1h-1zM737 170h1v1h-1zM908 170h1v1h-1zM441 171h2v1h-2zM468 171h1v1h-1zM480 171h1v1h-1zM566 171h1v1h-1zM736 171h1v1h-1zM909 171h1v1h-1zM438 172h3v1h-3zM469 172h1v1h-1zM478 172h2v1h-2zM567 172h1v1h-1zM735 172h1v1h-1zM910 172h1v1h-1zM418 173h20v1h-20zM470 173h2v1h-2zM477 173h1v1h-1zM567 173h1v1h-1zM735 173h1v1h-1zM911 173h1v1h-1zM415 174h3v1h-3zM472 174h5v1h-5zM568 174h1v1h-1zM734 174h1v1h-1zM912 174h1v1h-1zM413 175h2v1h-2zM569 175h1v1h-1zM734 175h1v1h-1zM913 175h1v1h-1zM410 176h3v1h-3zM569 176h1v1h-1zM733 176h1v1h-1zM914 176h1v1h-1zM407 177h3v1h-3zM570 177h1v1h-1zM733 177h1v1h-1zM914 177h1v1h-1zM405 178h2v1h-2zM570 178h1v1h-1zM732 178h1v1h-1zM915 178h1v1h-1zM950 178h7v1h-7zM404 179h1v1h-1zM571 179h1v1h-1zM731 179h1v1h-1zM916 179h1v1h-1zM946 179h4v1h-4zM402 180h2v1h-2zM571 180h1v1h-1zM730 180h1v1h-1zM917 180h2v1h-2zM934 180h12v1h-12zM401 181h1v1h-1zM572 181h1v1h-1zM730 181h1v1h-1zM919 181h15v1h-15zM399 182h2v1h-2zM572 182h1v1h-1zM729 182h1v1h-1zM397 183h2v1h-2zM573 183h1v1h-1zM728 183h1v1h-1zM396 184h1v1h-1zM573 184h1v1h-1zM727 184h1v1h-1zM394 185h2v1h-2zM574 185h1v1h-1zM727 185h1v1h-1zM393 186h1v1h-1zM574 186h1v1h-1zM726 186h1v1h-1zM392 187h1v1h-1zM575 187h1v1h-1zM725 187h1v1h-1zM390 188h2v1h-2zM575 188h1v1h-1zM725 188h1v1h-1zM389 189h1v1h-1zM576 189h1v1h-1zM724 189h1v1h-1zM388 190h1v1h-1zM576 190h1v1h-1zM723 190h1v1h-1zM387 191h1v1h-1zM577 191h1v1h-1zM723 191h1v1h-1zM387 192h1v1h-1zM577 192h1v1h-1zM722 192h1v1h-1zM386 193h1v1h-1zM578 193h1v1h-1zM721 193h1v1h-1zM385 194h1v1h-1zM578 194h1v1h-1zM721 194h1v1h-1zM385 195h1v1h-1zM579 195h1v1h-1zM720 195h1v1h-1zM384 196h1v1h-1zM579 196h1v1h-1zM719 196h1v1h-1zM338 197h7v1h-7zM383 197h1v1h-1zM580 197h1v1h-1zM719 197h1v1h-1zM334 198h4v1h-4zM345 198h2v1h-2zM382 198h1v1h-1zM580 198h1v1h-1zM718 198h1v1h-1zM327 199h7v1h-7zM347 199h2v1h-2zM382 199h1v1h-1zM581 199h1v1h-1zM718 199h1v1h-1zM325 200h2v1h-2zM349 200h2v1h-2zM381 200h1v1h-1zM582 200h1v1h-1zM717 200h1v1h-1zM323 201h2v1h-2zM351 201h2v1h-2zM380 201h1v1h-1zM582 201h1v1h-1zM717 201h1v1h-1zM307 202h11v1h-11zM321 202h2v1h-2zM353 202h1v1h-1zM379 202h1v1h-1zM583 202h1v1h-1zM716 202h1v1h-1zM305 203h2v1h-2zM318 203h3v1h-3zM354 203h1v1h-1zM378 203h1v1h-1zM584 203h1v1h-1zM715 203h1v1h-1zM304 204h1v1h-1zM355 204h1v1h-1zM378 204h1v1h-1zM585 204h1v1h-1zM715 204h1v1h-1zM302 205h2v1h-2zM356 205h1v1h-1zM377 205h1v1h-1zM585 205h1v1h-1zM714 205h1v1h-1zM301 206h1v1h-1zM357 206h1v1h-1zM375 206h2v1h-2zM586 206h1v1h-1zM713 206h1v1h-1zM300 207h1v1h-1zM358 207h2v1h-2zM373 207h2v1h-2zM587 207h1v1h-1zM713 207h1v1h-1zM299 208h1v1h-1zM360 208h2v1h-2zM370 208h3v1h-3zM587 208h1v1h-1zM712 208h1v1h-1zM299 209h1v1h-1zM362 209h8v1h-8zM588 209h1v1h-1zM711 209h1v1h-1zM298 210h1v1h-1zM589 210h1v1h-1zM710 210h1v1h-1zM297 211h1v1h-1zM589 211h1v1h-1zM710 211h1v1h-1zM297 212h1v1h-1zM590 212h1v1h-1zM709 212h1v1h-1zM294 213h3v1h-3zM591 213h1v1h-1zM708 213h1v1h-1zM292 214h2v1h-2zM591 214h1v1h-1zM707 214h1v1h-1zM291 215h1v1h-1zM592 215h1v1h-1zM706 215h1v1h-1zM290 216h1v1h-1zM593 216h1v1h-1zM706 216h1v1h-1zM289 217h1v1h-1zM594 217h1v1h-1zM705 217h1v1h-1zM288 218h1v1h-1zM594 218h1v1h-1zM704 218h1v1h-1zM286 219h2v1h-2zM595 219h1v1h-1zM703 219h1v1h-1zM285 220h1v1h-1zM596 220h1v1h-1zM703 220h1v1h-1zM284 221h1v1h-1zM597 221h1v1h-1zM702 221h1v1h-1zM283 222h1v1h-1zM597 222h1v1h-1zM702 222h1v1h-1zM282 223h1v1h-1zM598 223h1v1h-1zM701 223h1v1h-1zM281 224h1v1h-1zM599 224h1v1h-1zM701 224h1v1h-1zM280 225h1v1h-1zM599 225h1v1h-1zM700 225h1v1h-1zM279 226h1v1h-1zM600 226h1v1h-1zM699 226h1v1h-1zM278 227h1v1h-1zM601 227h1v1h-1zM698 227h1v1h-1zM278 228h1v1h-1zM601 228h1v1h-1zM698 228h1v1h-1zM277 229h1v1h-1zM602 229h1v1h-1zM697 229h1v1h-1zM276 230h1v1h-1zM602 230h1v1h-1zM696 230h1v1h-1zM275 231h1v1h-1zM603 231h1v1h-1zM695 231h1v1h-1zM275 232h1v1h-1zM603 232h1v1h-1zM694 232h1v1h-1zM274 233h1v1h-1zM604 233h1v1h-1zM694 233h1v1h-1zM4 234h1v1h-1zM274 234h1v1h-1zM605 234h1v1h-1zM693 234h1v1h-1zM5 235h1v1h-1zM273 235h1v1h-1zM605 235h1v1h-1zM692 235h1v1h-1zM6 236h1v1h-1zM273 236h1v1h-1zM606 236h1v1h-1zM691 236h1v1h-1zM6 237h1v1h-1zM272 237h1v1h-1zM607 237h1v1h-1zM690 237h1v1h-1zM7 238h1v1h-1zM272 238h1v1h-1zM607 238h1v1h-1zM689 238h1v1h-1zM8 239h1v1h-1zM271 239h1v1h-1zM608 239h1v1h-1zM688 239h1v1h-1zM9 240h1v1h-1zM271 240h1v1h-1zM609 240h1v1h-1zM687 240h1v1h-1zM10 241h1v1h-1zM270 241h1v1h-1zM610 241h1v1h-1zM686 241h1v1h-1zM10 242h1v1h-1zM270 242h1v1h-1zM611 242h1v1h-1zM686 242h1v1h-1zM11 243h1v1h-1zM269 243h1v1h-1zM612 243h1v1h-1zM685 243h1v1h-1zM12 244h1v1h-1zM269 244h1v1h-1zM613 244h1v1h-1zM684 244h1v1h-1zM13 245h1v1h-1zM268 245h1v1h-1zM614 245h1v1h-1zM683 245h1v1h-1zM14 246h1v1h-1zM267 246h1v1h-1zM614 246h1v1h-1zM682 246h1v1h-1zM14 247h1v1h-1zM267 247h1v1h-1zM615 247h1v1h-1zM681 247h1v1h-1zM15 248h1v1h-1zM266 248h1v1h-1zM616 248h1v1h-1zM679 248h2v1h-2zM16 249h1v1h-1zM265 249h1v1h-1zM617 249h1v1h-1zM677 249h2v1h-2zM17 250h1v1h-1zM265 250h1v1h-1zM618 250h1v1h-1zM676 250h1v1h-1zM17 251h1v1h-1zM264 251h1v1h-1zM619 251h1v1h-1zM675 251h1v1h-1zM18 252h1v1h-1zM263 252h1v1h-1zM620 252h1v1h-1zM674 252h1v1h-1zM18 253h1v1h-1zM263 253h1v1h-1zM621 253h1v1h-1zM673 253h1v1h-1zM19 254h1v1h-1zM262 254h1v1h-1zM622 254h1v1h-1zM672 254h1v1h-1zM19 255h1v1h-1zM261 255h1v1h-1zM623 255h1v1h-1zM671 255h1v1h-1zM20 256h1v1h-1zM261 256h1v1h-1zM624 256h1v1h-1zM670 256h1v1h-1zM21 257h1v1h-1zM260 257h1v1h-1zM625 257h1v1h-1zM669 257h1v1h-1zM21 258h1v1h-1zM259 258h1v1h-1zM626 258h1v1h-1zM668 258h1v1h-1zM22 259h1v1h-1zM258 259h1v1h-1zM627 259h1v1h-1zM667 259h1v1h-1zM22 260h1v1h-1zM257 260h1v1h-1zM628 260h1v1h-1zM666 260h1v1h-1zM23 261h1v1h-1zM254 261h3v1h-3zM629 261h1v1h-1zM665 261h1v1h-1zM23 262h1v1h-1zM251 262h3v1h-3zM630 262h2v1h-2zM663 262h2v1h-2zM24 263h1v1h-1zM249 263h2v1h-2zM632 263h2v1h-2zM661 263h2v1h-2zM24 264h1v1h-1zM247 264h2v1h-2zM634 264h3v1h-3zM658 264h3v1h-3zM25 265h1v1h-1zM245 265h2v1h-2zM637 265h2v1h-2zM654 265h4v1h-4zM25 266h1v1h-1zM244 266h1v1h-1zM639 266h7v1h-7zM650 266h4v1h-4zM26 267h1v1h-1zM242 267h2v1h-2zM646 267h4v1h-4zM26 268h1v1h-1zM241 268h1v1h-1zM27 269h1v1h-1zM240 269h1v1h-1zM27 270h1v1h-1zM239 270h1v1h-1zM28 271h1v1h-1zM238 271h1v1h-1zM28 272h1v1h-1zM238 272h1v1h-1zM29 273h1v1h-1zM237 273h1v1h-1zM29 274h1v1h-1zM236 274h1v1h-1zM30 275h1v1h-1zM235 275h1v1h-1zM30 276h1v1h-1zM235 276h1v1h-1zM31 277h1v1h-1zM234 277h1v1h-1zM31 278h1v1h-1zM234 278h1v1h-1zM32 279h1v1h-1zM233 279h1v1h-1zM32 280h1v1h-1zM233 280h1v1h-1zM33 281h1v1h-1zM232 281h1v1h-1zM33 282h1v1h-1zM231 282h1v1h-1zM34 283h1v1h-1zM231 283h1v1h-1zM34 284h1v1h-1zM230 284h1v1h-1zM35 285h1v1h-1zM229 285h1v1h-1zM35 286h1v1h-1zM229 286h1v1h-1zM36 287h1v1h-1zM228 287h1v1h-1zM37 288h1v1h-1zM227 288h1v1h-1zM37 289h1v1h-1zM226 289h1v1h-1zM38 290h1v1h-1zM226 290h1v1h-1zM38 291h1v1h-1zM225 291h1v1h-1zM39 292h1v1h-1zM224 292h1v1h-1zM39 293h1v1h-1zM223 293h1v1h-1zM40 294h1v1h-1zM223 294h1v1h-1zM40 295h1v1h-1zM222 295h1v1h-1zM41 296h1v1h-1zM221 296h1v1h-1zM41 297h1v1h-1zM221 297h1v1h-1zM42 298h1v1h-1zM220 298h1v1h-1zM43 299h1v1h-1zM219 299h1v1h-1zM43 300h1v1h-1zM218 300h1v1h-1zM44 301h1v1h-1zM217 301h1v1h-1zM45 302h1v1h-1zM216 302h1v1h-1zM45 303h1v1h-1zM214 303h2v1h-2zM46 304h1v1h-1zM213 304h1v1h-1zM46 305h1v1h-1zM212 305h1v1h-1zM47 306h1v1h-1zM211 306h1v1h-1zM47 307h1v1h-1zM211 307h1v1h-1zM48 308h1v1h-1zM210 308h1v1h-1zM48 309h1v1h-1zM210 309h1v1h-1zM49 310h1v1h-1zM209 310h1v1h-1zM49 311h1v1h-1zM209 311h1v1h-1zM50 312h1v1h-1zM208 312h1v1h-1zM50 313h1v1h-1zM207 313h1v1h-1zM51 314h1v1h-1zM207 314h1v1h-1zM51 315h1v1h-1zM206 315h1v1h-1zM52 316h1v1h-1zM205 316h1v1h-1zM53 317h1v1h-1zM205 317h1v1h-1zM53 318h1v1h-1zM204 318h1v1h-1zM54 319h1v1h-1zM203 319h1v1h-1zM54 320h1v1h-1zM203 320h1v1h-1zM55 321h1v1h-1zM202 321h1v1h-1zM55 322h1v1h-1zM201 322h1v1h-1zM56 323h1v1h-1zM201 323h1v1h-1zM56 324h1v1h-1zM200 324h1v1h-1zM57 325h1v1h-1zM199 325h1v1h-1zM57 326h1v1h-1zM198 326h1v1h-1zM58 327h1v1h-1zM197 327h1v1h-1zM58 328h1v1h-1zM196 328h1v1h-1zM59 329h1v1h-1zM195 329h1v1h-1zM59 330h1v1h-1zM194 330h1v1h-1zM60 331h1v1h-1zM194 331h1v1h-1zM61 332h1v1h-1zM193 332h1v1h-1zM61 333h1v1h-1zM192 333h1v1h-1zM62 334h1v1h-1zM191 334h1v1h-1zM63 335h1v1h-1zM190 335h1v1h-1zM63 336h1v1h-1zM189 336h1v1h-1zM64 337h1v1h-1zM188 337h1v1h-1zM65 338h1v1h-1zM187 338h1v1h-1zM65 339h1v1h-1zM186 339h1v1h-1zM66 340h1v1h-1zM186 340h1v1h-1zM67 341h1v1h-1zM185 341h1v1h-1zM67 342h1v1h-1zM184 342h1v1h-1zM68 343h1v1h-1zM183 343h1v1h-1zM69 344h1v1h-1zM182 344h1v1h-1zM69 345h1v1h-1zM181 345h1v1h-1zM70 346h1v1h-1zM180 346h1v1h-1zM71 347h1v1h-1zM179 347h1v1h-1zM71 348h1v1h-1zM178 348h1v1h-1zM72 349h1v1h-1zM178 349h1v1h-1zM73 350h1v1h-1zM177 350h1v1h-1zM74 351h1v1h-1zM176 351h1v1h-1zM74 352h1v1h-1zM175 352h1v1h-1zM75 353h1v1h-1zM174 353h1v1h-1zM76 354h1v1h-1zM174 354h1v1h-1zM77 355h1v1h-1zM173 355h1v1h-1zM78 356h1v1h-1zM172 356h1v1h-1zM78 357h1v1h-1zM171 357h1v1h-1zM79 358h1v1h-1zM171 358h1v1h-1zM80 359h1v1h-1zM170 359h1v1h-1zM81 360h1v1h-1zM169 360h1v1h-1zM82 361h1v1h-1zM169 361h1v1h-1zM82 362h1v1h-1zM168 362h1v1h-1zM83 363h1v1h-1zM167 363h1v1h-1zM84 364h1v1h-1zM167 364h1v1h-1zM85 365h2v1h-2zM166 365h1v1h-1zM87 366h2v1h-2zM166 366h1v1h-1zM89 367h1v1h-1zM165 367h1v1h-1zM90 368h1v1h-1zM165 368h1v1h-1zM91 369h1v1h-1zM164 369h1v1h-1zM92 370h1v1h-1zM163 370h1v1h-1zM93 371h1v1h-1zM162 371h1v1h-1zM94 372h1v1h-1zM162 372h1v1h-1zM94 373h1v1h-1zM161 373h1v1h-1zM95 374h1v1h-1zM160 374h1v1h-1zM96 375h1v1h-1zM159 375h1v1h-1zM97 376h1v1h-1zM158 376h1v1h-1zM98 377h2v1h-2zM157 377h1v1h-1zM100 378h1v1h-1zM156 378h1v1h-1zM101 379h2v1h-2zM154 379h2v1h-2zM103 380h3v1h-3zM153 380h1v1h-1zM106 381h4v1h-4zM150 381h3v1h-3zM110 382h8v1h-8zM146 382h4v1h-4zM118 383h4v1h-4zM142 383h4v1h-4zM122 384h4v1h-4zM138 384h4v1h-4zM126 385h12v1h-12z" fill="#4b0082" shape-rendering="crispEdges"/>
<path d="M828 86h2v1h-2zM826 87h2v1h-2zM830 87h3v1h-3zM825 88h1v1h-1zM833 88h1v1h-1zM822 89h3v1h-3zM834 89h2v1h-2zM820 90h2v1h-2zM836 90h1v1h-1zM819 91h1v1h-1zM837 91h1v1h-1zM818 92h1v1h-1zM837 92h1v1h-1zM817 93h1v1h-1zM838 93h1v1h-1zM816 94h1v1h-1zM839 94h1v1h-1zM815 95h1v1h-1zM839 95h1v1h-1zM814 96h1v1h-1zM840 96h1v1h-1zM813 97h1v1h-1zM841 97h1v1h-1zM812 98h1v1h-1zM842 98h2v1h-2zM811 99h1v1h-1zM844 99h1v1h-1zM810 100h1v1h-1zM845 100h1v1h-1zM810 101h1v1h-1zM846 101h1v1h-1zM809 102h1v1h-1zM847 102h1v1h-1zM807 103h2v1h-2zM848 103h1v1h-1zM805 104h2v1h-2zM849 104h1v1h-1zM804 105h1v1h-1zM850 105h1v1h-1zM802 106h2v1h-2zM850 106h1v1h-1zM801 107h1v1h-1zM851 107h1v1h-1zM800 108h1v1h-1zM852 108h1v1h-1zM798 109h2v1h-2zM853 109h1v1h-1zM797 110h1v1h-1zM854 110h1v1h-1zM795 111h2v1h-2zM854 111h1v1h-1zM793 112h2v1h-2zM855 112h1v1h-1zM791 113h2v1h-2zM856 113h1v1h-1zM789 114h2v1h-2zM857 114h1v1h-1zM784 115h5v1h-5zM858 115h1v1h-1zM782 116h2v1h-2zM858 116h1v1h-1zM781 117h1v1h-1zM859 117h1v1h-1zM780 118h1v1h-1zM860 118h1v1h-1zM779 119h1v1h-1zM861 119h1v1h-1zM778 120h1v1h-1zM861 120h1v1h-1zM777 121h1v1h-1zM862 121h1v1h-1zM771 122h6v1h-6zM863 122h1v1h-1zM769 123h2v1h-2zM863 123h1v1h-1zM767 124h2v1h-2zM864 124h1v1h-1zM752 125h2v1h-2zM765 125h2v1h-2zM865 125h1v1h-1zM750 126h2v1h-2zM754 126h4v1h-4zM762 126h3v1h-3zM866 126h1v1h-1zM749 127h1v1h-1zM758 127h4v1h-4zM866 127h1v1h-1zM748 128h1v1h-1zM867 128h1v1h-1zM747 129h1v1h-1zM868 129h1v1h-1zM747 130h1v1h-1zM869 130h1v1h-1zM746 131h1v1h-1zM870 131h1v1h-1zM745 132h1v1h-1zM871 132h1v1h-1zM745 133h1v1h-1zM872 133h1v1h-1zM744 134h1v1h-1zM873 134h1v1h-1zM743 135h1v1h-1zM873 135h1v1h-1zM743 136h1v1h-1zM874 136h1v1h-1zM742 137h1v1h-1zM874 137h1v1h-1zM520 138h10v1h-10zM741 138h1v1h-1zM875 138h1v1h-1zM518 139h2v1h-2zM530 139h3v1h-3zM741 139h1v1h-1zM875 139h1v1h-1zM496 140h6v1h-6zM517 140h1v1h-1zM533 140h1v1h-1zM740 140h1v1h-1zM876 140h1v1h-1zM495 141h1v1h-1zM502 141h8v1h-8zM514 141h3v1h-3zM534 141h1v1h-1zM740 141h1v1h-1zM877 141h1v1h-1zM495 142h1v1h-1zM510 142h4v1h-4zM534 142h1v1h-1zM739 142h1v1h-1zM877 142h1v1h-1zM494 143h1v1h-1zM535 143h1v1h-1zM739 143h1v1h-1zM878 143h1v1h-1zM494 144h1v1h-1zM536 144h1v1h-1zM738 144h1v1h-1zM878 144h1v1h-1zM493 145h1v1h-1zM537 145h1v1h-1zM738 145h1v1h-1zM879 145h1v1h-1zM493 146h1v1h-1zM538 146h1v1h-1zM737 146h1v1h-1zM879 146h1v1h-1zM492 147h1v1h-1zM538 147h1v1h-1zM737 147h1v1h-1zM880 147h1v1h-1zM492 148h1v1h-1zM539 148h1v1h-1zM736 148h1v1h-1zM880 148h1v1h-1zM491 149h1v1h-1zM540 149h1v1h-1zM736 149h1v1h-1zM880 149h1v1h-1zM491 150h1v1h-1zM541 150h1v1h-1zM735 150h1v1h-1zM881 150h1v1h-1zM490 151h1v1h-1zM541 151h1v1h-1zM735 151h1v1h-1zM881 151h1v1h-1zM490 152h1v1h-1zM542 152h1v1h-1zM734 152h1v1h-1zM882 152h1v1h-1zM489 153h1v1h-1zM543 153h1v1h-1zM734 153h1v1h-1zM882 153h1v1h-1zM489 154h1v1h-1zM543 154h1v1h-1zM733 154h1v1h-1zM883 154h1v1h-1zM422 155h3v1h-3zM488 155h1v1h-1zM544 155h1v1h-1zM733 155h1v1h-1zM883 155h1v1h-1zM420 156h2v1h-2zM425 156h2v1h-2zM488 156h1v1h-1zM545 156h1v1h-1zM732 156h1v1h-1zM884 156h1v1h-1zM418 157h2v1h-2zM427 157h2v1h-2zM487 157h1v1h-1zM545 157h1v1h-1zM731 157h1v1h-1zM884 157h1v1h-1zM417 158h1v1h-1zM429 158h1v1h-1zM487 158h1v1h-1zM546 158h1v1h-1zM731 158h1v1h-1zM885 158h1v1h-1zM415 159h2v1h-2zM430 159h1v1h-1zM486 159h1v1h-1zM546 159h1v1h-1zM730 159h1v1h-1zM885 159h1v1h-1zM413 160h2v1h-2zM431 160h1v1h-1zM486 160h1v1h-1zM547 160h1v1h-1zM729 160h1v1h-1zM886 160h1v1h-1zM412 161h1v1h-1zM432 161h1v1h-1zM485 161h1v1h-1zM547 161h1v1h-1zM729 161h1v1h-1zM887 161h1v1h-1zM410 162h2v1h-2zM433 162h1v1h-1zM485 162h1v1h-1zM548 162h1v1h-1zM728 162h1v1h-1zM887 162h1v1h-1zM956 162h1v1h-1zM409 163h1v1h-1zM433 163h1v1h-1zM484 163h1v1h-1zM548 163h1v1h-1zM727 163h1v1h-1zM888 163h1v1h-1zM955 163h1v1h-1zM408 164h1v1h-1zM434 164h1v1h-1zM483 164h1v1h-1zM548 164h1v1h-1zM726 164h1v1h-1zM889 164h1v1h-1zM954 164h1v1h-1zM406 165h2v1h-2zM434 165h1v1h-1zM483 165h1v1h-1zM549 165h1v1h-1zM726 165h1v1h-1zM889 165h1v1h-1zM954 165h1v1h-1zM405 166h1v1h-1zM435 166h1v1h-1zM482 166h1v1h-1zM549 166h1v1h-1zM725 166h1v1h-1zM890 166h1v1h-1zM953 166h1v1h-1zM404 167h1v1h-1zM435 167h1v1h-1zM481 167h1v1h-1zM550 167h1v1h-1zM724 167h1v1h-1zM891 167h1v1h-1zM952 167h1v1h-1zM403 168h1v1h-1zM436 168h1v1h-1zM481 168h1v1h-1zM550 168h1v1h-1zM723 168h1v1h-1zM891 168h1v1h-1zM951 168h1v1h-1zM402 169h1v1h-1zM436 169h1v1h-1zM480 169h1v1h-1zM551 169h1v1h-1zM722 169h1v1h-1zM892 169h1v1h-1zM950 169h1v1h-1zM401 170h1v1h-1zM436 170h1v1h-1zM479 170h1v1h-1zM551 170h1v1h-1zM721 170h1v1h-1zM893 170h1v1h-1zM950 170h1v1h-1zM398 171h3v1h-3zM437 171h1v1h-1zM478 171h1v1h-1zM552 171h1v1h-1zM720 171h1v1h-1zM894 171h2v1h-2zM949 171h1v1h-1zM392 172h6v1h-6zM437 172h1v1h-1zM477 172h1v1h-1zM552 172h1v1h-1zM720 172h1v1h-1zM896 172h1v1h-1zM948 172h1v1h-1zM390 173h2v1h-2zM438 173h1v1h-1zM475 173h2v1h-2zM553 173h1v1h-1zM719 173h1v1h-1zM897 173h1v1h-1zM947 173h1v1h-1zM389 174h1v1h-1zM438 174h1v1h-1zM473 174h2v1h-2zM554 174h1v1h-1zM719 174h1v1h-1zM898 174h1v1h-1zM946 174h1v1h-1zM388 175h1v1h-1zM439 175h1v1h-1zM468 175h5v1h-5zM554 175h1v1h-1zM718 175h1v1h-1zM899 175h1v1h-1zM945 175h1v1h-1zM388 176h1v1h-1zM439 176h1v1h-1zM466 176h2v1h-2zM555 176h1v1h-1zM718 176h1v1h-1zM900 176h1v1h-1zM944 176h1v1h-1zM387 177h1v1h-1zM440 177h1v1h-1zM465 177h1v1h-1zM556 177h1v1h-1zM717 177h1v1h-1zM901 177h1v1h-1zM943 177h1v1h-1zM387 178h1v1h-1zM440 178h1v1h-1zM455 178h10v1h-10zM557 178h1v1h-1zM717 178h1v1h-1zM901 178h1v1h-1zM942 178h1v1h-1zM386 179h1v1h-1zM441 179h1v1h-1zM453 179h2v1h-2zM558 179h1v1h-1zM716 179h1v1h-1zM902 179h1v1h-1zM942 179h1v1h-1zM386 180h1v1h-1zM442 180h1v1h-1zM451 180h2v1h-2zM558 180h1v1h-1zM716 180h1v1h-1zM902 180h1v1h-1zM941 180h1v1h-1zM385 181h1v1h-1zM442 181h1v1h-1zM449 181h2v1h-2zM559 181h1v1h-1zM715 181h1v1h-1zM903 181h1v1h-1zM940 181h1v1h-1zM385 182h1v1h-1zM443 182h1v1h-1zM446 182h3v1h-3zM560 182h1v1h-1zM715 182h1v1h-1zM903 182h1v1h-1zM939 182h1v1h-1zM384 183h1v1h-1zM444 183h2v1h-2zM561 183h1v1h-1zM714 183h1v1h-1zM904 183h1v1h-1zM939 183h1v1h-1zM384 184h1v1h-1zM562 184h1v1h-1zM713 184h1v1h-1zM905 184h1v1h-1zM938 184h1v1h-1zM384 185h1v1h-1zM562 185h1v1h-1zM713 185h1v1h-1zM905 185h1v1h-1zM938 185h1v1h-1zM383 186h1v1h-1zM563 186h1v1h-1zM712 186h1v1h-1zM906 186h1v1h-1zM937 186h1v1h-1zM303 187h2v1h-2zM383 187h1v1h-1zM564 187h1v1h-1zM711 187h1v1h-1zM907 187h1v1h-1zM937 187h1v1h-1zM301 188h2v1h-2zM305 188h2v1h-2zM382 188h1v1h-1zM565 188h1v1h-1zM711 188h1v1h-1zM907 188h1v1h-1zM936 188h1v1h-1zM300 189h1v1h-1zM307 189h3v1h-3zM382 189h1v1h-1zM566 189h1v1h-1zM710 189h1v1h-1zM908 189h1v1h-1zM936 189h1v1h-1zM299 190h1v1h-1zM310 190h3v1h-3zM381 190h1v1h-1zM566 190h1v1h-1zM709 190h1v1h-1zM909 190h1v1h-1zM935 190h1v1h-1zM298 191h1v1h-1zM313 191h1v1h-1zM381 191h1v1h-1zM567 191h1v1h-1zM709 191h1v1h-1zM910 191h1v1h-1zM935 191h1v1h-1zM297 192h1v1h-1zM314 192h1v1h-1zM380 192h1v1h-1zM568 192h1v1h-1zM708 192h1v1h-1zM910 192h1v1h-1zM934 192h1v1h-1zM295 193h2v1h-2zM315 193h1v1h-1zM380 193h1v1h-1zM568 193h1v1h-1zM707 193h1v1h-1zM911 193h1v1h-1zM934 193h1v1h-1zM293 194h2v1h-2zM316 194h1v1h-1zM379 194h1v1h-1zM569 194h1v1h-1zM707 194h1v1h-1zM912 194h1v1h-1zM933 194h1v1h-1zM290 195h3v1h-3zM317 195h2v1h-2zM379 195h1v1h-1zM569 195h1v1h-1zM706 195h1v1h-1zM913 195h1v1h-1zM933 195h1v1h-1zM288 196h2v1h-2zM319 196h2v1h-2zM378 196h1v1h-1zM570 196h1v1h-1zM705 196h1v1h-1zM914 196h1v1h-1zM932 196h1v1h-1zM286 197h2v1h-2zM321 197h1v1h-1zM378 197h1v1h-1zM570 197h1v1h-1zM705 197h1v1h-1zM914 197h1v1h-1zM931 197h1v1h-1zM285 198h1v1h-1zM322 198h2v1h-2zM377 198h1v1h-1zM570 198h1v1h-1zM704 198h1v1h-1zM915 198h1v1h-1zM930 198h1v1h-1zM284 199h1v1h-1zM324 199h1v1h-1zM377 199h1v1h-1zM571 199h1v1h-1zM703 199h1v1h-1zM916 199h6v1h-6zM929 199h1v1h-1zM282 200h2v1h-2zM325 200h1v1h-1zM376 200h1v1h-1zM571 200h1v1h-1zM703 200h1v1h-1zM922 200h7v1h-7zM281 201h1v1h-1zM326 201h1v1h-1zM375 201h1v1h-1zM572 201h1v1h-1zM702 201h1v1h-1zM280 202h1v1h-1zM326 202h1v1h-1zM374 202h1v1h-1zM572 202h1v1h-1zM702 202h1v1h-1zM279 203h1v1h-1zM327 203h1v1h-1zM374 203h1v1h-1zM572 203h1v1h-1zM701 203h1v1h-1zM279 204h1v1h-1zM328 204h1v1h-1zM373 204h1v1h-1zM573 204h1v1h-1zM701 204h1v1h-1zM278 205h1v1h-1zM329 205h1v1h-1zM372 205h1v1h-1zM573 205h1v1h-1zM700 205h1v1h-1zM277 206h1v1h-1zM330 206h1v1h-1zM371 206h1v1h-1zM574 206h1v1h-1zM699 206h1v1h-1zM277 207h1v1h-1zM330 207h1v1h-1zM370 207h1v1h-1zM574 207h1v1h-1zM699 207h1v1h-1zM276 208h1v1h-1zM331 208h1v1h-1zM369 208h1v1h-1zM574 208h1v1h-1zM698 208h1v1h-1zM276 209h1v1h-1zM332 209h14v1h-14zM368 209h1v1h-1zM575 209h1v1h-1zM697 209h1v1h-1zM275 210h1v1h-1zM346 210h4v1h-4zM366 210h2v1h-2zM575 210h1v1h-1zM697 210h1v1h-1zM275 211h1v1h-1zM350 211h3v1h-3zM365 211h1v1h-1zM576 211h1v1h-1zM696 211h1v1h-1zM274 212h1v1h-1zM353 212h2v1h-2zM363 212h2v1h-2zM576 212h1v1h-1zM696 212h1v1h-1zM274 213h1v1h-1zM355 213h3v1h-3zM361 213h2v1h-2zM576 213h1v1h-1zM695 213h1v1h-1zM273 214h1v1h-1zM358 214h3v1h-3zM577 214h1v1h-1zM695 214h1v1h-1zM273 215h1v1h-1zM577 215h1v1h-1zM694 215h1v1h-1zM272 216h1v1h-1zM578 216h1v1h-1zM694 216h1v1h-1zM272 217h1v1h-1zM578 217h1v1h-1zM693 217h1v1h-1zM272 218h1v1h-1zM579 218h1v1h-1zM693 218h1v1h-1zM271 219h1v1h-1zM579 219h1v1h-1zM692 219h1v1h-1zM271 220h1v1h-1zM580 220h1v1h-1zM691 220h1v1h-1zM271 221h1v1h-1zM580 221h1v1h-1zM690 221h1v1h-1zM270 222h1v1h-1zM581 222h1v1h-1zM690 222h1v1h-1zM270 223h1v1h-1zM581 223h1v1h-1zM689 223h1v1h-1zM270 224h1v1h-1zM582 224h1v1h-1zM688 224h1v1h-1zM269 225h1v1h-1zM582 225h1v1h-1zM687 225h1v1h-1zM269 226h1v1h-1zM583 226h1v1h-1zM687 226h1v1h-1zM269 227h1v1h-1zM583 227h1v1h-1zM686 227h1v1h-1zM268 228h1v1h-1zM584 228h1v1h-1zM685 228h1v1h-1zM268 229h1v1h-1zM585 229h1v1h-1zM685 229h1v1h-1zM267 230h1v1h-1zM585 230h1v1h-1zM684 230h1v1h-1zM266 231h1v1h-1zM586 231h1v1h-1zM683 231h1v1h-1zM266 232h1v1h-1zM586 232h1v1h-1zM683 232h1v1h-1zM265 233h1v1h-1zM587 233h1v1h-1zM682 233h1v1h-1zM264 234h1v1h-1zM587 234h1v1h-1zM681 234h1v1h-1zM263 235h1v1h-1zM588 235h1v1h-1zM681 235h1v1h-1zM263 236h1v1h-1zM589 236h1v1h-1zM680 236h1v1h-1zM262 237h1v1h-1zM589 237h1v1h-1zM679 237h1v1h-1zM261 238h1v1h-1zM590 238h1v1h-1zM678 238h1v1h-1zM261 239h1v1h-1zM590 239h1v1h-1zM677 239h1v1h-1zM260 240h1v1h-1zM591 240h1v1h-1zM676 240h1v1h-1zM259 241h1v1h-1zM591 241h1v1h-1zM675 241h1v1h-1zM258 242h1v1h-1zM592 242h1v1h-1zM674 242h1v1h-1zM258 243h1v1h-1zM592 243h1v1h-1zM674 243h1v1h-1zM257 244h1v1h-1zM593 244h1v1h-1zM673 244h1v1h-1zM256 245h1v1h-1zM593 245h1v1h-1zM672 245h1v1h-1zM255 246h1v1h-1zM594 246h1v1h-1zM671 246h1v1h-1zM254 247h1v1h-1zM595 247h1v1h-1zM670 247h1v1h-1zM254 248h1v1h-1zM595 248h1v1h-1zM670 248h1v1h-1zM4 249h1v1h-1zM253 249h1v1h-1zM596 249h1v1h-1zM669 249h1v1h-1zM5 250h1v1h-1zM252 250h1v1h-1zM597 250h1v1h-1zM668 250h1v1h-1zM5 251h1v1h-1zM251 251h1v1h-1zM597 251h1v1h-1zM667 251h1v1h-1zM6 252h1v1h-1zM251 252h1v1h-1zM598 252h1v1h-1zM667 252h1v1h-1zM6 253h1v1h-1zM250 253h1v1h-1zM599 253h1v1h-1zM666 253h1v1h-1zM7 254h1v1h-1zM250 254h1v1h-1zM599 254h1v1h-1zM665 254h1v1h-1zM7 255h1v1h-1zM249 255h1v1h-1zM600 255h1v1h-1zM665 255h1v1h-1zM8 256h1v1h-1zM249 256h1v1h-1zM601 256h1v1h-1zM664 256h1v1h-1zM9 257h1v1h-1zM248 257h1v1h-1zM602 257h1v1h-1zM662 257h2v1h-2zM9 258h1v1h-1zM247 258h1v1h-1zM602 258h1v1h-1zM661 258h1v1h-1zM10 259h1v1h-1zM246 259h1v1h-1zM603 259h1v1h-1zM659 259h2v1h-2zM11 260h1v1h-1zM245 260h1v1h-1zM604 260h1v1h-1zM657 260h2v1h-2zM11 261h1v1h-1zM244 261h1v1h-1zM605 261h2v1h-2zM655 261h2v1h-2zM12 262h1v1h-1zM243 262h1v1h-1zM607 262h2v1h-2zM653 262h2v1h-2zM13 263h1v1h-1zM242 263h1v1h-1zM609 263h2v1h-2zM651 263h2v1h-2zM13 264h1v1h-1zM241 264h1v1h-1zM611 264h2v1h-2zM649 264h2v1h-2zM14 265h1v1h-1zM240 265h1v1h-1zM613 265h1v1h-1zM648 265h1v1h-1zM14 266h1v1h-1zM239 266h1v1h-1zM614 266h2v1h-2zM647 266h1v1h-1zM15 267h1v1h-1zM238 267h1v1h-1zM616 267h1v1h-1zM646 267h1v1h-1zM15 268h1v1h-1zM237 268h1v1h-1zM617 268h1v1h-1zM645 268h1v1h-1zM16 269h1v1h-1zM236 269h1v1h-1zM618 269h1v1h-1zM643 269h2v1h-2zM16 270h1v1h-1zM235 270h1v1h-1zM619 270h1v1h-1zM641 270h2v1h-2zM17 271h1v1h-1zM235 271h1v1h-1zM620 271h1v1h-1zM638 271h3v1h-3zM17 272h1v1h-1zM234 272h1v1h-1zM621 272h2v1h-2zM634 272h4v1h-4zM18 273h1v1h-1zM233 273h1v1h-1zM623 273h11v1h-11zM18 274h1v1h-1zM233 274h1v1h-1zM18 275h1v1h-1zM232 275h1v1h-1zM19 276h1v1h-1zM214 276h4v1h-4zM230 276h2v1h-2zM19 277h1v1h-1zM212 277h2v1h-2zM218 277h4v1h-4zM229 277h1v1h-1zM20 278h1v1h-1zM211 278h1v1h-1zM222 278h7v1h-7zM20 279h1v1h-1zM211 279h1v1h-1zM20 280h1v1h-1zM210 280h1v1h-1zM21 281h1v1h-1zM210 281h1v1h-1zM21 282h1v1h-1zM209 282h1v1h-1zM22 283h1v1h-1zM209 283h1v1h-1zM22 284h1v1h-1zM208 284h1v1h-1zM23 285h1v1h-1zM207 285h1v1h-1zM23 286h1v1h-1zM207 286h1v1h-1zM24 287h1v1h-1zM206 287h1v1h-1zM24 288h1v1h-1zM206 288h1v1h-1zM24 289h1v1h-1zM205 289h1v1h-1zM25 290h1v1h-1zM205 290h1v1h-1zM25 291h1v1h-1zM204 291h1v1h-1zM25 292h1v1h-1zM203 292h1v1h-1zM26 293h1v1h-1zM203 293h1v1h-1zM26 294h1v1h-1zM202 294h1v1h-1zM27 295h1v1h-1zM202 295h1v1h-1zM27 296h1v1h-1zM201 296h1v1h-1zM27 297h1v1h-1zM201 297h1v1h-1zM28 298h1v1h-1zM200 298h1v1h-1zM28 299h1v1h-1zM199 299h1v1h-1zM28 300h1v1h-1zM198 300h1v1h-1zM29 301h1v1h-1zM198 301h1v1h-1zM29 302h1v1h-1zM197 302h1v1h-1zM30 303h1v1h-1zM196 303h1v1h-1zM30 304h1v1h-1zM195 304h1v1h-1zM30 305h1v1h-1zM194 305h1v1h-1zM31 306h1v1h-1zM194 306h1v1h-1zM31 307h1v1h-1zM193 307h1v1h-1zM32 308h1v1h-1zM192 308h1v1h-1zM32 309h1v1h-1zM191 309h1v1h-1zM32 310h1v1h-1zM191 310h1v1h-1zM33 311h1v1h-1zM190 311h1v1h-1zM33 312h1v1h-1zM189 312h1v1h-1zM34 313h1v1h-1zM189 313h1v1h-1zM34 314h1v1h-1zM188 314h1v1h-1zM34 315h1v1h-1zM187 315h1v1h-1zM35 316h1v1h-1zM186 316h1v1h-1zM35 317h1v1h-1zM186 317h1v1h-1zM36 318h1v1h-1zM185 318h1v1h-1zM36 319h1v1h-1zM184 319h1v1h-1zM37 320h1v1h-1zM183 320h1v1h-1zM37 321h1v1h-1zM183 321h1v1h-1zM38 322h1v1h-1zM182 322h1v1h-1zM38 323h1v1h-1zM181 323h1v1h-1zM39 324h1v1h-1zM181 324h1v1h-1zM39 325h1v1h-1zM180 325h1v1h-1zM40 326h1v1h-1zM179 326h1v1h-1zM41 327h1v1h-1zM179 327h1v1h-1zM41 328h1v1h-1zM178 328h1v1h-1zM42 329h1v1h-1zM178 329h1v1h-1zM42 330h1v1h-1zM177 330h1v1h-1zM43 331h1v1h-1zM177 331h1v1h-1zM43 332h1v1h-1zM176 332h1v1h-1zM44 333h1v1h-1zM176 333h1v1h-1zM45 334h1v1h-1zM175 334h1v1h-1zM45 335h1v1h-1zM175 335h1v1h-1zM46 336h1v1h-1zM174 336h1v1h-1zM47 337h1v1h-1zM174 337h1v1h-1zM47 338h1v1h-1zM173 338h1v1h-1zM48 339h1v1h-1zM173 339h1v1h-1zM49 340h1v1h-1zM172 340h1v1h-1zM49 341h1v1h-1zM172 341h1v1h-1zM50 342h1v1h-1zM171 342h1v1h-1zM51 343h1v1h-1zM171 343h1v1h-1zM51 344h1v1h-1zM170 344h1v1h-1zM52 345h1v1h-1zM170 345h1v1h-1zM53 346h1v1h-1zM170 346h1v1h-1zM53 347h1v1h-1zM169 347h1v1h-1zM54 348h1v1h-1zM169 348h1v1h-1zM54 349h1v1h-1zM168 349h1v1h-1zM55 350h1v1h-1zM168 350h1v1h-1zM55 351h1v1h-1zM168 351h1v1h-1zM56 352h1v1h-1zM167 352h1v1h-1zM57 353h1v1h-1zM167 353h1v1h-1zM57 354h1v1h-1zM167 354h1v1h-1zM58 355h1v1h-1zM166 355h1v1h-1zM59 356h1v1h-1zM166 356h1v1h-1zM59 357h1v1h-1zM165 357h1v1h-1zM60 358h1v1h-1zM165 358h1v1h-1zM61 359h1v1h-1zM165 359h1v1h-1zM62 360h1v1h-1zM164 360h1v1h-1zM63 361h1v1h-1zM164 361h1v1h-1zM64 362h1v1h-1zM163 362h1v1h-1zM65 363h1v1h-1zM163 363h1v1h-1zM65 364h1v1h-1zM162 364h1v1h-1zM66 365h1v1h-1zM162 365h1v1h-1zM67 366h1v1h-1zM161 366h1v1h-1zM67 367h1v1h-1zM161 367h1v1h-1zM68 368h1v1h-1zM160 368h1v1h-1zM69 369h1v1h-1zM159 369h1v1h-1zM69 370h1v1h-1zM159 370h1v1h-1zM70 371h1v1h-1zM158 371h1v1h-1zM71 372h1v1h-1zM157 372h1v1h-1zM71 373h1v1h-1zM157 373h1v1h-1zM72 374h1v1h-1zM156 374h1v1h-1zM73 375h2v1h-2zM154 375h2v1h-2zM75 376h2v1h-2zM153 376h1v1h-1zM77 377h1v1h-1zM151 377h2v1h-2zM78 378h2v1h-2zM149 378h2v1h-2zM80 379h2v1h-2zM86 379h4v1h-4zM148 379h1v1h-1zM82 380h4v1h-4zM90 380h4v1h-4zM146 380h2v1h-2zM94 381h3v1h-3zM145 381h1v1h-1zM97 382h1v1h-1zM142 382h3v1h-3zM98 383h2v1h-2zM138 383h4v1h-4zM100 384h2v1h-2zM134 384h4v1h-4zM102 385h4v1h-4zM131 385h3v1h-3zM106 386h4v1h-4zM114 386h3v1h-3zM129 386h2v1h-2zM110 387h4v1h-4zM117 387h2v1h-2zM122 387h7v1h-7zM119 388h3v1h-3z" fill="#ffff00" shape-rendering="crispEdges"/>
<path d="M804 75h2v1h-2zM814 75h3v1h-3zM803 76h1v1h-1zM806 76h8v1h-8zM817 76h1v1h-1zM803 77h1v1h-1zM818 77h2v1h-2zM802 78h1v1h-1zM820 78h1v1h-1zM801 79h1v1h-1zM821 79h1v1h-1zM801 80h1v1h-1zM821 80h1v1h-1zM800 81h1v1h-1zM822 81h1v1h-1zM800 82h1v1h-1zM823 82h1v1h-1zM799 83h1v1h-1zM823 83h1v1h-1zM799 84h1v1h-1zM824 84h1v1h-1zM799 85h1v1h-1zM825 85h1v1h-1zM798 86h1v1h-1zM825 86h1v1h-1zM798 87h1v1h-1zM826 87h1v1h-1zM798 88h1v1h-1zM826 88h1v1h-1zM797 89h1v1h-1zM827 89h1v1h-1zM797 90h1v1h-1zM827 90h1v1h-1zM797 91h1v1h-1zM828 91h1v1h-1zM796 92h1v1h-1zM829 92h1v1h-1zM796 93h1v1h-1zM829 93h1v1h-1zM796 94h1v1h-1zM830 94h1v1h-1zM795 95h1v1h-1zM830 95h1v1h-1zM795 96h1v1h-1zM831 96h1v1h-1zM794 97h1v1h-1zM831 97h1v1h-1zM794 98h1v1h-1zM832 98h1v1h-1zM794 99h1v1h-1zM832 99h1v1h-1zM793 100h1v1h-1zM833 100h1v1h-1zM793 101h1v1h-1zM833 101h1v1h-1zM792 102h1v1h-1zM834 102h1v1h-1zM792 103h1v1h-1zM835 103h1v1h-1zM792 104h1v1h-1zM835 104h1v1h-1zM791 105h1v1h-1zM836 105h1v1h-1zM751 106h2v1h-2zM791 106h1v1h-1zM836 106h1v1h-1zM749 107h2v1h-2zM753 107h1v1h-1zM790 107h1v1h-1zM837 107h1v1h-1zM746 108h3v1h-3zM754 108h1v1h-1zM790 108h1v1h-1zM837 108h1v1h-1zM744 109h2v1h-2zM754 109h1v1h-1zM790 109h1v1h-1zM838 109h1v1h-1zM744 110h1v1h-1zM755 110h1v1h-1zM789 110h1v1h-1zM838 110h1v1h-1zM743 111h1v1h-1zM756 111h1v1h-1zM789 111h1v1h-1zM838 111h1v1h-1zM743 112h1v1h-1zM757 112h1v1h-1zM788 112h1v1h-1zM839 112h1v1h-1zM742 113h1v1h-1zM757 113h1v1h-1zM788 113h1v1h-1zM839 113h1v1h-1zM742 114h1v1h-1zM758 114h1v1h-1zM787 114h1v1h-1zM840 114h1v1h-1zM742 115h1v1h-1zM758 115h1v1h-1zM787 115h1v1h-1zM840 115h1v1h-1zM741 116h1v1h-1zM759 116h1v1h-1zM786 116h1v1h-1zM840 116h1v1h-1zM741 117h1v1h-1zM759 117h1v1h-1zM786 117h1v1h-1zM841 117h1v1h-1zM740 118h1v1h-1zM760 118h1v1h-1zM785 118h1v1h-1zM841 118h1v1h-1zM740 119h1v1h-1zM761 119h1v1h-1zM785 119h1v1h-1zM842 119h1v1h-1zM740 120h1v1h-1zM761 120h1v1h-1zM784 120h1v1h-1zM842 120h1v1h-1zM739 121h1v1h-1zM762 121h1v1h-1zM784 121h1v1h-1zM843 121h1v1h-1zM500 122h2v1h-2zM739 122h1v1h-1zM763 122h1v1h-1zM783 122h1v1h-1zM843 122h1v1h-1zM498 123h2v1h-2zM502 123h3v1h-3zM738 123h1v1h-1zM763 123h1v1h-1zM783 123h1v1h-1zM844 123h1v1h-1zM497 124h1v1h-1zM505 124h1v1h-1zM738 124h1v1h-1zM764 124h1v1h-1zM782 124h1v1h-1zM844 124h1v1h-1zM496 125h1v1h-1zM505 125h1v1h-1zM737 125h1v1h-1zM765 125h1v1h-1zM782 125h1v1h-1zM845 125h1v1h-1zM495 126h1v1h-1zM506 126h1v1h-1zM737 126h1v1h-1zM766 126h1v1h-1zM782 126h1v1h-1zM846 126h2v1h-2zM494 127h1v1h-1zM507 127h1v1h-1zM736 127h1v1h-1zM766 127h1v1h-1zM781 127h1v1h-1zM848 127h1v1h-1zM494 128h1v1h-1zM507 128h1v1h-1zM736 128h1v1h-1zM767 128h1v1h-1zM781 128h1v1h-1zM849 128h1v1h-1zM493 129h1v1h-1zM508 129h1v1h-1zM736 129h1v1h-1zM768 129h1v1h-1zM780 129h1v1h-1zM850 129h1v1h-1zM492 130h1v1h-1zM509 130h1v1h-1zM735 130h1v1h-1zM769 130h1v1h-1zM780 130h1v1h-1zM850 130h1v1h-1zM492 131h1v1h-1zM509 131h1v1h-1zM735 131h1v1h-1zM769 131h1v1h-1zM779 131h1v1h-1zM851 131h1v1h-1zM491 132h1v1h-1zM510 132h1v1h-1zM734 132h1v1h-1zM770 132h1v1h-1zM779 132h1v1h-1zM852 132h1v1h-1zM491 133h1v1h-1zM510 133h1v1h-1zM734 133h1v1h-1zM771 133h1v1h-1zM778 133h1v1h-1zM853 133h1v1h-1zM490 134h1v1h-1zM511 134h1v1h-1zM733 134h1v1h-1zM771 134h1v1h-1zM777 134h1v1h-1zM854 134h2v1h-2zM954 134h3v1h-3zM394 135h3v1h-3zM490 135h1v1h-1zM511 135h1v1h-1zM733 135h1v1h-1zM772 135h2v1h-2zM777 135h1v1h-1zM856 135h1v1h-1zM952 135h2v1h-2zM392 136h2v1h-2zM397 136h2v1h-2zM402 136h3v1h-3zM489 136h1v1h-1zM512 136h1v1h-1zM732 136h1v1h-1zM774 136h3v1h-3zM857 136h1v1h-1zM951 136h1v1h-1zM392 137h1v1h-1zM399 137h3v1h-3zM404 137h1v1h-1zM489 137h1v1h-1zM512 137h1v1h-1zM731 137h1v1h-1zM858 137h2v1h-2zM950 137h1v1h-1zM391 138h1v1h-1zM405 138h1v1h-1zM488 138h1v1h-1zM513 138h1v1h-1zM730 138h1v1h-1zM860 138h1v1h-1zM949 138h1v1h-1zM391 139h1v1h-1zM405 139h1v1h-1zM488 139h1v1h-1zM514 139h1v1h-1zM729 139h1v1h-1zM861 139h1v1h-1zM948 139h1v1h-1zM390 140h1v1h-1zM405 140h1v1h-1zM487 140h1v1h-1zM514 140h1v1h-1zM728 140h1v1h-1zM861 140h1v1h-1zM946 140h2v1h-2zM390 141h1v1h-1zM406 141h1v1h-1zM487 141h1v1h-1zM515 141h1v1h-1zM727 141h1v1h-1zM862 141h1v1h-1zM945 141h1v1h-1zM389 142h1v1h-1zM406 142h1v1h-1zM486 142h1v1h-1zM516 142h1v1h-1zM726 142h1v1h-1zM863 142h1v1h-1zM944 142h1v1h-1zM389 143h1v1h-1zM406 143h1v1h-1zM486 143h1v1h-1zM517 143h1v1h-1zM726 143h1v1h-1zM863 143h1v1h-1zM866 143h7v1h-7zM944 143h1v1h-1zM388 144h1v1h-1zM407 144h1v1h-1zM485 144h1v1h-1zM518 144h1v1h-1zM725 144h1v1h-1zM864 144h2v1h-2zM872 144h1v1h-1zM943 144h1v1h-1zM388 145h1v1h-1zM407 145h1v1h-1zM485 145h1v1h-1zM519 145h1v1h-1zM724 145h1v1h-1zM873 145h1v1h-1zM943 145h1v1h-1zM388 146h1v1h-1zM407 146h1v1h-1zM484 146h1v1h-1zM520 146h1v1h-1zM722 146h2v1h-2zM873 146h1v1h-1zM942 146h1v1h-1zM387 147h1v1h-1zM408 147h1v1h-1zM483 147h1v1h-1zM521 147h1v1h-1zM721 147h1v1h-1zM874 147h1v1h-1zM942 147h1v1h-1zM387 148h1v1h-1zM408 148h1v1h-1zM483 148h1v1h-1zM521 148h1v1h-1zM720 148h1v1h-1zM874 148h1v1h-1zM941 148h1v1h-1zM387 149h1v1h-1zM408 149h1v1h-1zM482 149h1v1h-1zM522 149h1v1h-1zM720 149h1v1h-1zM874 149h1v1h-1zM941 149h1v1h-1zM387 150h1v1h-1zM409 150h1v1h-1zM482 150h1v1h-1zM523 150h1v1h-1zM719 150h1v1h-1zM875 150h1v1h-1zM940 150h1v1h-1zM386 151h1v1h-1zM409 151h1v1h-1zM481 151h1v1h-1zM523 151h1v1h-1zM719 151h1v1h-1zM875 151h1v1h-1zM940 151h1v1h-1zM386 152h1v1h-1zM409 152h1v1h-1zM481 152h1v1h-1zM524 152h2v1h-2zM719 152h1v1h-1zM876 152h1v1h-1zM940 152h1v1h-1zM386 153h1v1h-1zM410 153h1v1h-1zM480 153h1v1h-1zM526 153h3v1h-3zM718 153h1v1h-1zM876 153h1v1h-1zM939 153h1v1h-1zM386 154h1v1h-1zM410 154h1v1h-1zM479 154h1v1h-1zM529 154h1v1h-1zM718 154h1v1h-1zM876 154h1v1h-1zM939 154h1v1h-1zM385 155h1v1h-1zM410 155h1v1h-1zM478 155h1v1h-1zM530 155h2v1h-2zM717 155h1v1h-1zM877 155h1v1h-1zM939 155h1v1h-1zM385 156h1v1h-1zM410 156h1v1h-1zM468 156h2v1h-2zM478 156h1v1h-1zM532 156h1v1h-1zM717 156h1v1h-1zM877 156h1v1h-1zM938 156h1v1h-1zM385 157h1v1h-1zM411 157h1v1h-1zM468 157h1v1h-1zM470 157h4v1h-4zM477 157h1v1h-1zM533 157h1v1h-1zM717 157h1v1h-1zM877 157h1v1h-1zM938 157h1v1h-1zM385 158h1v1h-1zM411 158h1v1h-1zM467 158h1v1h-1zM474 158h3v1h-3zM534 158h2v1h-2zM716 158h1v1h-1zM878 158h1v1h-1zM937 158h1v1h-1zM384 159h1v1h-1zM411 159h1v1h-1zM467 159h1v1h-1zM536 159h1v1h-1zM716 159h1v1h-1zM878 159h1v1h-1zM937 159h1v1h-1zM384 160h1v1h-1zM412 160h1v1h-1zM466 160h1v1h-1zM537 160h2v1h-2zM714 160h2v1h-2zM878 160h1v1h-1zM937 160h1v1h-1zM384 161h1v1h-1zM412 161h1v1h-1zM466 161h1v1h-1zM539 161h2v1h-2zM713 161h1v1h-1zM879 161h1v1h-1zM936 161h1v1h-1zM384 162h1v1h-1zM412 162h1v1h-1zM465 162h1v1h-1zM541 162h1v1h-1zM712 162h1v1h-1zM879 162h1v1h-1zM936 162h1v1h-1zM384 163h1v1h-1zM413 163h1v1h-1zM465 163h1v1h-1zM541 163h1v1h-1zM711 163h1v1h-1zM879 163h1v1h-1zM936 163h1v1h-1zM383 164h1v1h-1zM413 164h1v1h-1zM464 164h1v1h-1zM542 164h1v1h-1zM710 164h1v1h-1zM880 164h1v1h-1zM936 164h1v1h-1zM383 165h1v1h-1zM413 165h1v1h-1zM463 165h1v1h-1zM542 165h1v1h-1zM710 165h1v1h-1zM880 165h1v1h-1zM935 165h1v1h-1zM383 166h1v1h-1zM414 166h1v1h-1zM463 166h1v1h-1zM543 166h1v1h-1zM709 166h1v1h-1zM880 166h1v1h-1zM935 166h1v1h-1zM383 167h1v1h-1zM414 167h1v1h-1zM462 167h1v1h-1zM543 167h1v1h-1zM708 167h1v1h-1zM881 167h1v1h-1zM935 167h1v1h-1zM382 168h1v1h-1zM414 168h1v1h-1zM462 168h1v1h-1zM544 168h1v1h-1zM708 168h1v1h-1zM881 168h1v1h-1zM935 168h1v1h-1zM382 169h1v1h-1zM414 169h1v1h-1zM461 169h1v1h-1zM544 169h1v1h-1zM707 169h1v1h-1zM881 169h1v1h-1zM934 169h1v1h-1zM382 170h1v1h-1zM415 170h1v1h-1zM461 170h1v1h-1zM545 170h1v1h-1zM707 170h1v1h-1zM881 170h1v1h-1zM934 170h1v1h-1zM382 171h1v1h-1zM415 171h1v1h-1zM460 171h1v1h-1zM545 171h1v1h-1zM706 171h1v1h-1zM882 171h1v1h-1zM934 171h1v1h-1zM284 172h2v1h-2zM382 172h1v1h-1zM415 172h1v1h-1zM460 172h1v1h-1zM545 172h1v1h-1zM706 172h1v1h-1zM882 172h1v1h-1zM934 172h1v1h-1zM282 173h2v1h-2zM286 173h3v1h-3zM381 173h1v1h-1zM416 173h1v1h-1zM459 173h1v1h-1zM546 173h1v1h-1zM705 173h1v1h-1zM882 173h1v1h-1zM933 173h1v1h-1zM281 174h1v1h-1zM289 174h2v1h-2zM381 174h1v1h-1zM416 174h1v1h-1zM423 174h2v1h-2zM459 174h1v1h-1zM546 174h1v1h-1zM705 174h1v1h-1zM883 174h1v1h-1zM933 174h1v1h-1zM280 175h1v1h-1zM291 175h2v1h-2zM381 175h1v1h-1zM417 175h2v1h-2zM421 175h2v1h-2zM425 175h2v1h-2zM458 175h1v1h-1zM546 175h1v1h-1zM704 175h1v1h-1zM883 175h1v1h-1zM933 175h1v1h-1zM278 176h2v1h-2zM293 176h1v1h-1zM381 176h1v1h-1zM419 176h2v1h-2zM427 176h2v1h-2zM458 176h1v1h-1zM547 176h1v1h-1zM704 176h1v1h-1zM883 176h1v1h-1zM933 176h1v1h-1zM277 177h1v1h-1zM294 177h1v1h-1zM380 177h1v1h-1zM428 177h1v1h-1zM457 177h1v1h-1zM547 177h1v1h-1zM704 177h1v1h-1zM883 177h1v1h-1zM932 177h1v1h-1zM276 178h1v1h-1zM295 178h1v1h-1zM380 178h1v1h-1zM429 178h1v1h-1zM457 178h1v1h-1zM547 178h1v1h-1zM703 178h1v1h-1zM884 178h1v1h-1zM932 178h1v1h-1zM276 179h1v1h-1zM296 179h1v1h-1zM380 179h1v1h-1zM429 179h1v1h-1zM456 179h1v1h-1zM548 179h1v1h-1zM703 179h1v1h-1zM884 179h1v1h-1zM932 179h1v1h-1zM275 180h1v1h-1zM296 180h1v1h-1zM380 180h1v1h-1zM430 180h1v1h-1zM456 180h1v1h-1zM548 180h1v1h-1zM702 180h1v1h-1zM884 180h1v1h-1zM931 180h1v1h-1zM275 181h1v1h-1zM297 181h1v1h-1zM380 181h1v1h-1zM430 181h1v1h-1zM455 181h1v1h-1zM548 181h1v1h-1zM702 181h1v1h-1zM885 181h1v1h-1zM931 181h1v1h-1zM275 182h1v1h-1zM297 182h1v1h-1zM379 182h1v1h-1zM430 182h1v1h-1zM455 182h1v1h-1zM549 182h1v1h-1zM701 182h1v1h-1zM885 182h1v1h-1zM931 182h1v1h-1zM274 183h1v1h-1zM298 183h1v1h-1zM379 183h1v1h-1zM431 183h1v1h-1zM454 183h1v1h-1zM549 183h1v1h-1zM701 183h1v1h-1zM886 183h1v1h-1zM930 183h1v1h-1zM274 184h1v1h-1zM298 184h1v1h-1zM379 184h1v1h-1zM431 184h1v1h-1zM453 184h1v1h-1zM549 184h1v1h-1zM700 184h1v1h-1zM886 184h1v1h-1zM930 184h1v1h-1zM274 185h1v1h-1zM299 185h1v1h-1zM379 185h1v1h-1zM432 185h1v1h-1zM453 185h1v1h-1zM550 185h1v1h-1zM699 185h1v1h-1zM887 185h1v1h-1zM930 185h1v1h-1zM273 186h1v1h-1zM299 186h1v1h-1zM378 186h1v1h-1zM432 186h1v1h-1zM451 186h2v1h-2zM550 186h1v1h-1zM699 186h1v1h-1zM887 186h1v1h-1zM930 186h1v1h-1zM273 187h1v1h-1zM300 187h1v1h-1zM378 187h1v1h-1zM433 187h1v1h-1zM449 187h2v1h-2zM550 187h1v1h-1zM698 187h1v1h-1zM888 187h1v1h-1zM929 187h1v1h-1zM273 188h1v1h-1zM300 188h1v1h-1zM378 188h1v1h-1zM434 188h1v1h-1zM448 188h1v1h-1zM551 188h1v1h-1zM697 188h1v1h-1zM888 188h1v1h-1zM929 188h1v1h-1zM272 189h1v1h-1zM300 189h1v1h-1zM378 189h1v1h-1zM434 189h1v1h-1zM447 189h1v1h-1zM551 189h1v1h-1zM697 189h1v1h-1zM889 189h1v1h-1zM929 189h1v1h-1zM272 190h1v1h-1zM301 190h1v1h-1zM378 190h1v1h-1zM435 190h1v1h-1zM446 190h1v1h-1zM551 190h1v1h-1zM696 190h1v1h-1zM890 190h1v1h-1zM928 190h1v1h-1zM272 191h1v1h-1zM301 191h1v1h-1zM377 191h1v1h-1zM436 191h1v1h-1zM445 191h1v1h-1zM552 191h1v1h-1zM695 191h1v1h-1zM890 191h1v1h-1zM928 191h1v1h-1zM272 192h1v1h-1zM302 192h1v1h-1zM377 192h1v1h-1zM437 192h1v1h-1zM444 192h1v1h-1zM552 192h1v1h-1zM694 192h1v1h-1zM891 192h1v1h-1zM928 192h1v1h-1zM271 193h1v1h-1zM302 193h1v1h-1zM377 193h1v1h-1zM438 193h1v1h-1zM442 193h2v1h-2zM553 193h1v1h-1zM693 193h1v1h-1zM892 193h1v1h-1zM927 193h1v1h-1zM271 194h1v1h-1zM303 194h1v1h-1zM377 194h1v1h-1zM439 194h1v1h-1zM441 194h1v1h-1zM553 194h1v1h-1zM692 194h1v1h-1zM893 194h1v1h-1zM927 194h1v1h-1zM271 195h1v1h-1zM303 195h1v1h-1zM376 195h1v1h-1zM440 195h1v1h-1zM554 195h1v1h-1zM691 195h1v1h-1zM893 195h1v1h-1zM926 195h1v1h-1zM271 196h1v1h-1zM304 196h1v1h-1zM376 196h1v1h-1zM554 196h1v1h-1zM691 196h1v1h-1zM894 196h1v1h-1zM926 196h1v1h-1zM270 197h1v1h-1zM304 197h1v1h-1zM376 197h1v1h-1zM555 197h1v1h-1zM690 197h1v1h-1zM894 197h1v1h-1zM925 197h1v1h-1zM270 198h1v1h-1zM305 198h1v1h-1zM376 198h1v1h-1zM555 198h1v1h-1zM689 198h1v1h-1zM895 198h1v1h-1zM925 198h1v1h-1zM270 199h1v1h-1zM305 199h1v1h-1zM375 199h1v1h-1zM556 199h1v1h-1zM689 199h1v1h-1zM895 199h1v1h-1zM924 199h1v1h-1zM270 200h1v1h-1zM306 200h1v1h-1zM375 200h1v1h-1zM556 200h1v1h-1zM688 200h1v1h-1zM896 200h1v1h-1zM924 200h1v1h-1zM269 201h1v1h-1zM306 201h1v1h-1zM374 201h1v1h-1zM556 201h1v1h-1zM688 201h1v1h-1zM896 201h1v1h-1zM923 201h1v1h-1zM269 202h1v1h-1zM307 202h1v1h-1zM374 202h1v1h-1zM557 202h1v1h-1zM687 202h1v1h-1zM896 202h1v1h-1zM922 202h1v1h-1zM269 203h1v1h-1zM307 203h1v1h-1zM346 203h3v1h-3zM373 203h1v1h-1zM557 203h1v1h-1zM687 203h1v1h-1zM897 203h1v1h-1zM922 203h1v1h-1zM269 204h1v1h-1zM308 204h1v1h-1zM344 204h2v1h-2zM349 204h2v1h-2zM373 204h1v1h-1zM558 204h1v1h-1zM686 204h1v1h-1zM897 204h1v1h-1zM921 204h1v1h-1zM268 205h1v1h-1zM309 205h1v1h-1zM343 205h1v1h-1zM351 205h3v1h-3zM372 205h1v1h-1zM558 205h1v1h-1zM686 205h1v1h-1zM898 205h1v1h-1zM920 205h1v1h-1zM268 206h1v1h-1zM310 206h1v1h-1zM343 206h1v1h-1zM354 206h7v1h-7zM371 206h2v1h-2zM559 206h1v1h-1zM686 206h1v1h-1zM898 206h1v1h-1zM919 206h1v1h-1zM268 207h1v1h-1zM311 207h1v1h-1zM342 207h1v1h-1zM361 207h2v1h-2zM369 207h2v1h-2zM559 207h1v1h-1zM685 207h1v1h-1zM899 207h1v1h-1zM918 207h1v1h-1zM268 208h1v1h-1zM312 208h1v1h-1zM341 208h1v1h-1zM363 208h6v1h-6zM560 208h1v1h-1zM685 208h1v1h-1zM899 208h1v1h-1zM918 208h1v1h-1zM267 209h1v1h-1zM313 209h1v1h-1zM341 209h1v1h-1zM560 209h1v1h-1zM684 209h1v1h-1zM900 209h1v1h-1zM917 209h1v1h-1zM267 210h1v1h-1zM313 210h1v1h-1zM340 210h1v1h-1zM561 210h1v1h-1zM684 210h1v1h-1zM900 210h1v1h-1zM912 210h5v1h-5zM266 211h1v1h-1zM314 211h1v1h-1zM339 211h1v1h-1zM561 211h1v1h-1zM683 211h1v1h-1zM901 211h1v1h-1zM910 211h2v1h-2zM266 212h1v1h-1zM315 212h1v1h-1zM338 212h1v1h-1zM562 212h1v1h-1zM683 212h1v1h-1zM902 212h2v1h-2zM909 212h1v1h-1zM265 213h1v1h-1zM315 213h1v1h-1zM338 213h1v1h-1zM563 213h1v1h-1zM682 213h1v1h-1zM904 213h5v1h-5zM265 214h1v1h-1zM316 214h1v1h-1zM337 214h1v1h-1zM563 214h1v1h-1zM682 214h1v1h-1zM264 215h1v1h-1zM317 215h1v1h-1zM336 215h1v1h-1zM564 215h1v1h-1zM681 215h1v1h-1zM264 216h1v1h-1zM318 216h1v1h-1zM335 216h1v1h-1zM565 216h1v1h-1zM681 216h1v1h-1zM263 217h1v1h-1zM319 217h1v1h-1zM335 217h1v1h-1zM565 217h1v1h-1zM680 217h1v1h-1zM262 218h1v1h-1zM320 218h5v1h-5zM334 218h1v1h-1zM566 218h1v1h-1zM679 218h1v1h-1zM261 219h1v1h-1zM325 219h1v1h-1zM334 219h1v1h-1zM566 219h1v1h-1zM678 219h1v1h-1zM260 220h1v1h-1zM326 220h2v1h-2zM333 220h1v1h-1zM567 220h1v1h-1zM677 220h1v1h-1zM259 221h1v1h-1zM328 221h2v1h-2zM333 221h1v1h-1zM567 221h1v1h-1zM676 221h1v1h-1zM259 222h1v1h-1zM330 222h3v1h-3zM568 222h1v1h-1zM675 222h1v1h-1zM258 223h1v1h-1zM568 223h1v1h-1zM674 223h1v1h-1zM257 224h1v1h-1zM568 224h1v1h-1zM674 224h1v1h-1zM257 225h1v1h-1zM569 225h1v1h-1zM673 225h1v1h-1zM256 226h1v1h-1zM569 226h1v1h-1zM672 226h1v1h-1zM254 227h2v1h-2zM569 227h1v1h-1zM671 227h1v1h-1zM253 228h1v1h-1zM570 228h1v1h-1zM671 228h1v1h-1zM252 229h1v1h-1zM570 229h1v1h-1zM670 229h1v1h-1zM252 230h1v1h-1zM570 230h1v1h-1zM669 230h1v1h-1zM251 231h1v1h-1zM571 231h1v1h-1zM669 231h1v1h-1zM251 232h1v1h-1zM571 232h1v1h-1zM668 232h1v1h-1zM250 233h1v1h-1zM571 233h1v1h-1zM668 233h1v1h-1zM250 234h1v1h-1zM572 234h1v1h-1zM667 234h1v1h-1zM249 235h1v1h-1zM572 235h1v1h-1zM667 235h1v1h-1zM249 236h1v1h-1zM572 236h1v1h-1zM667 236h1v1h-1zM248 237h1v1h-1zM573 237h1v1h-1zM666 237h1v1h-1zM248 238h1v1h-1zM573 238h1v1h-1zM666 238h1v1h-1zM247 239h1v1h-1zM574 239h1v1h-1zM665 239h1v1h-1zM247 240h1v1h-1zM574 240h1v1h-1zM665 240h1v1h-1zM246 241h1v1h-1zM575 241h1v1h-1zM665 241h1v1h-1zM246 242h1v1h-1zM575 242h1v1h-1zM664 242h1v1h-1zM245 243h1v1h-1zM576 243h1v1h-1zM664 243h1v1h-1zM245 244h1v1h-1zM576 244h1v1h-1zM663 244h1v1h-1zM244 245h1v1h-1zM577 245h1v1h-1zM662 245h1v1h-1zM243 246h1v1h-1zM578 246h1v1h-1zM661 246h1v1h-1zM243 247h1v1h-1zM578 247h1v1h-1zM660 247h1v1h-1zM242 248h1v1h-1zM579 248h1v1h-1zM659 248h1v1h-1zM242 249h1v1h-1zM580 249h1v1h-1zM658 249h1v1h-1zM241 250h1v1h-1zM581 250h1v1h-1zM657 250h1v1h-1zM241 251h1v1h-1zM581 251h1v1h-1zM656 251h1v1h-1zM238 252h3v1h-3zM582 252h1v1h-1zM654 252h2v1h-2zM236 253h2v1h-2zM583 253h1v1h-1zM653 253h1v1h-1zM235 254h1v1h-1zM583 254h1v1h-1zM652 254h1v1h-1zM235 255h1v1h-1zM584 255h1v1h-1zM651 255h1v1h-1zM234 256h1v1h-1zM585 256h1v1h-1zM650 256h1v1h-1zM234 257h1v1h-1zM585 257h1v1h-1zM649 257h1v1h-1zM233 258h1v1h-1zM586 258h1v1h-1zM648 258h1v1h-1zM233 259h1v1h-1zM586 259h1v1h-1zM647 259h1v1h-1zM232 260h1v1h-1zM587 260h1v1h-1zM647 260h1v1h-1zM231 261h1v1h-1zM587 261h1v1h-1zM646 261h1v1h-1zM230 262h1v1h-1zM588 262h1v1h-1zM645 262h1v1h-1zM230 263h1v1h-1zM589 263h1v1h-1zM645 263h1v1h-1zM229 264h1v1h-1zM589 264h1v1h-1zM644 264h1v1h-1zM228 265h1v1h-1zM590 265h1v1h-1zM643 265h1v1h-1zM227 266h1v1h-1zM590 266h1v1h-1zM642 266h1v1h-1zM227 267h1v1h-1zM591 267h1v1h-1zM642 267h1v1h-1zM226 268h1v1h-1zM591 268h1v1h-1zM641 268h1v1h-1zM226 269h1v1h-1zM592 269h1v1h-1zM634 269h7v1h-7zM225 270h1v1h-1zM592 270h1v1h-1zM630 270h4v1h-4zM225 271h1v1h-1zM593 271h1v1h-1zM626 271h4v1h-4zM224 272h1v1h-1zM594 272h1v1h-1zM618 272h8v1h-8zM223 273h1v1h-1zM595 273h1v1h-1zM614 273h4v1h-4zM222 274h1v1h-1zM596 274h6v1h-6zM610 274h4v1h-4zM187 275h2v1h-2zM221 275h1v1h-1zM602 275h8v1h-8zM185 276h2v1h-2zM189 276h2v1h-2zM218 276h3v1h-3zM4 277h1v1h-1zM184 277h1v1h-1zM191 277h2v1h-2zM212 277h6v1h-6zM4 278h1v1h-1zM183 278h1v1h-1zM193 278h1v1h-1zM212 278h1v1h-1zM5 279h1v1h-1zM183 279h1v1h-1zM193 279h1v1h-1zM211 279h1v1h-1zM5 280h1v1h-1zM182 280h1v1h-1zM194 280h1v1h-1zM211 280h1v1h-1zM6 281h1v1h-1zM182 281h1v1h-1zM194 281h1v1h-1zM210 281h1v1h-1zM6 282h1v1h-1zM181 282h1v1h-1zM195 282h1v1h-1zM210 282h1v1h-1zM7 283h1v1h-1zM181 283h1v1h-1zM195 283h1v1h-1zM209 283h1v1h-1zM7 284h1v1h-1zM180 284h1v1h-1zM196 284h1v1h-1zM209 284h1v1h-1zM8 285h1v1h-1zM180 285h1v1h-1zM196 285h1v1h-1zM208 285h1v1h-1zM8 286h1v1h-1zM179 286h1v1h-1zM197 286h1v1h-1zM207 286h1v1h-1zM9 287h1v1h-1zM179 287h1v1h-1zM197 287h1v1h-1zM206 287h1v1h-1zM9 288h1v1h-1zM178 288h1v1h-1zM198 288h1v1h-1zM206 288h1v1h-1zM10 289h1v1h-1zM178 289h1v1h-1zM199 289h1v1h-1zM205 289h1v1h-1zM11 290h1v1h-1zM177 290h1v1h-1zM199 290h1v1h-1zM202 290h3v1h-3zM11 291h1v1h-1zM177 291h1v1h-1zM200 291h2v1h-2zM12 292h1v1h-1zM176 292h1v1h-1zM13 293h1v1h-1zM176 293h1v1h-1zM13 294h1v1h-1zM176 294h1v1h-1zM14 295h1v1h-1zM175 295h1v1h-1zM14 296h1v1h-1zM175 296h1v1h-1zM15 297h1v1h-1zM175 297h1v1h-1zM15 298h1v1h-1zM174 298h1v1h-1zM16 299h1v1h-1zM174 299h1v1h-1zM16 300h1v1h-1zM174 300h1v1h-1zM17 301h1v1h-1zM173 301h1v1h-1zM17 302h1v1h-1zM173 302h1v1h-1zM18 303h1v1h-1zM173 303h1v1h-1zM18 304h1v1h-1zM172 304h1v1h-1zM18 305h1v1h-1zM172 305h1v1h-1zM19 306h1v1h-1zM172 306h1v1h-1zM19 307h1v1h-1zM172 307h1v1h-1zM20 308h1v1h-1zM171 308h1v1h-1zM20 309h1v1h-1zM171 309h1v1h-1zM20 310h1v1h-1zM171 310h1v1h-1zM21 311h1v1h-1zM171 311h1v1h-1zM21 312h1v1h-1zM170 312h1v1h-1zM21 313h1v1h-1zM170 313h1v1h-1zM22 314h1v1h-1zM170 314h1v1h-1zM22 315h1v1h-1zM170 315h1v1h-1zM23 316h1v1h-1zM169 316h1v1h-1zM23 317h1v1h-1zM169 317h1v1h-1zM23 318h1v1h-1zM169 318h1v1h-1zM24 319h1v1h-1zM169 319h1v1h-1zM24 320h1v1h-1zM168 320h1v1h-1zM24 321h1v1h-1zM168 321h1v1h-1zM25 322h1v1h-1zM168 322h1v1h-1zM25 323h1v1h-1zM168 323h1v1h-1zM25 324h1v1h-1zM167 324h1v1h-1zM26 325h1v1h-1zM167 325h1v1h-1zM26 326h1v1h-1zM167 326h1v1h-1zM27 327h1v1h-1zM167 327h1v1h-1zM27 328h1v1h-1zM166 328h1v1h-1zM27 329h1v1h-1zM166 329h1v1h-1zM28 330h1v1h-1zM166 330h1v1h-1zM28 331h1v1h-1zM166 331h1v1h-1zM28 332h1v1h-1zM166 332h1v1h-1zM29 333h1v1h-1zM165 333h1v1h-1zM29 334h1v1h-1zM165 334h1v1h-1zM30 335h1v1h-1zM165 335h1v1h-1zM30 336h1v1h-1zM165 336h1v1h-1zM30 337h1v1h-1zM164 337h1v1h-1zM31 338h1v1h-1zM164 338h1v1h-1zM31 339h1v1h-1zM164 339h1v1h-1zM32 340h1v1h-1zM164 340h1v1h-1zM32 341h1v1h-1zM163 341h1v1h-1zM32 342h1v1h-1zM163 342h1v1h-1zM33 343h1v1h-1zM163 343h1v1h-1zM33 344h1v1h-1zM162 344h1v1h-1zM34 345h1v1h-1zM162 345h1v1h-1zM34 346h1v1h-1zM162 346h1v1h-1zM34 347h1v1h-1zM162 347h1v1h-1zM35 348h1v1h-1zM161 348h1v1h-1zM35 349h1v1h-1zM161 349h1v1h-1zM36 350h1v1h-1zM161 350h1v1h-1zM36 351h1v1h-1zM160 351h1v1h-1zM36 352h1v1h-1zM160 352h1v1h-1zM37 353h1v1h-1zM160 353h1v1h-1zM37 354h1v1h-1zM159 354h1v1h-1zM38 355h1v1h-1zM159 355h1v1h-1zM38 356h1v1h-1zM158 356h1v1h-1zM38 357h1v1h-1zM158 357h1v1h-1zM39 358h1v1h-1zM157 358h1v1h-1zM39 359h1v1h-1zM157 359h1v1h-1zM40 360h1v1h-1zM156 360h1v1h-1zM40 361h1v1h-1zM156 361h1v1h-1zM41 362h1v1h-1zM155 362h1v1h-1zM42 363h1v1h-1zM155 363h1v1h-1zM42 364h1v1h-1zM154 364h1v1h-1zM43 365h1v1h-1zM153 365h1v1h-1zM44 366h1v1h-1zM153 366h1v1h-1zM45 367h1v1h-1zM152 367h1v1h-1zM46 368h2v1h-2zM151 368h1v1h-1zM48 369h2v1h-2zM150 369h1v1h-1zM50 370h3v1h-3zM149 370h1v1h-1zM53 371h1v1h-1zM148 371h1v1h-1zM54 372h2v1h-2zM63 372h2v1h-2zM147 372h1v1h-1zM56 373h2v1h-2zM61 373h2v1h-2zM65 373h1v1h-1zM146 373h1v1h-1zM58 374h3v1h-3zM66 374h1v1h-1zM145 374h1v1h-1zM67 375h1v1h-1zM144 375h1v1h-1zM68 376h1v1h-1zM143 376h1v1h-1zM69 377h1v1h-1zM142 377h1v1h-1zM69 378h1v1h-1zM141 378h1v1h-1zM70 379h1v1h-1zM140 379h1v1h-1zM71 380h1v1h-1zM138 380h2v1h-2zM71 381h1v1h-1zM137 381h1v1h-1zM72 382h1v1h-1zM135 382h2v1h-2zM73 383h2v1h-2zM133 383h2v1h-2zM75 384h2v1h-2zM88 384h1v1h-1zM132 384h1v1h-1zM77 385h1v1h-1zM86 385h2v1h-2zM89 385h1v1h-1zM107 385h2v1h-2zM131 385h1v1h-1zM78 386h2v1h-2zM85 386h1v1h-1zM90 386h1v1h-1zM98 386h4v1h-4zM105 386h2v1h-2zM109 386h2v1h-2zM130 386h1v1h-1zM80 387h5v1h-5zM91 387h1v1h-1zM94 387h4v1h-4zM102 387h3v1h-3zM111 387h3v1h-3zM129 387h1v1h-1zM92 388h2v1h-2zM114 388h15v1h-15z" fill="#ff0000" shape-rendering="crispEdges"/>
<g shape-rendering="crispEdges">
<rect x="4" y="68" width="1199" height="2" fill="#ff0000"/>
<rect x="4" y="122" width="1199" height="2" fill="#ff0000"/>
<rect x="3" y="120" width="6" height="6" fill="#ff0000"/>
<rect x="5" y="122" width="2" height="2" fill="#fff"/>
<rect x="1196" y="120" width="6" height="6" fill="#ff0000"/>
<rect x="1198" y="122" width="2" height="2" fill="#fff"/>
<rect x="4" y="169" width="1199" height="2" fill="#00ff00"/>
<rect x="3" y="167" width="6" height="6" fill="#00ff00"/>
<rect x="5" y="169" width="2" height="2" fill="#fff"/>
<rect x="1196" y="167" width="6" height="6" fill="#00ff00"/>
<rect x="1198" y="169" width="2" height="2" fill="#fff"/>
<rect x="4" y="227" width="1199" height="2" fill="#0000ff"/>
<rect x="3" y="225" width="6" height="6" fill="#0000ff"/>
<rect x="5" y="227" width="2" height="2" fill="#fff"/>
<rect x="1196" y="225" width="6" height="6" fill="#0000ff"/>
<rect x="1198" y="227" width="2" height="2" fill="#fff"/>
<rect x="4" y="289" width="1199" height="2" fill="#0000ff"/>
</g>
<rect x="1204" y="63" width="38" height="11" fill="#ff0000" shape-rendering="crispEdges"/>
<text x="1208.4" y="72" font-size="10" fill="#fff" color="#fff" textLength="32.5" lengthAdjust="spacingAndGlyphs">1.28906</text>
<rect x="1204" y="117" width="38" height="11" fill="#ff0000" shape-rendering="crispEdges"/>
<text x="1208.4" y="126" font-size="10" fill="#fff" color="#fff" textLength="32.5" lengthAdjust="spacingAndGlyphs">1.27517</text>
<rect x="1204" y="147" width="38" height="11" fill="#000000" shape-rendering="crispEdges"/>
<text x="1208.4" y="156" font-size="10" fill="#fff" color="#fff" textLength="32.5" lengthAdjust="spacingAndGlyphs">1.26768</text>
<rect x="1204" y="164" width="38" height="11" fill="#00ff00" shape-rendering="crispEdges"/>
<text x="1208.4" y="173" font-size="10" fill="#fff" color="#fff" textLength="32.5" lengthAdjust="spacingAndGlyphs">1.26308</text>
<rect x="1204" y="222" width="38" height="11" fill="#0000ff" shape-rendering="crispEdges"/>
<text x="1208.4" y="231" font-size="10" fill="#fff" color="#fff" textLength="32.5" lengthAdjust="spacingAndGlyphs">1.24811</text>
<rect x="1204" y="284" width="38" height="11" fill="#0000ff" shape-rendering="crispEdges"/>
<text x="1208.4" y="293" font-size="10" fill="#fff" color="#fff" textLength="32.5" lengthAdjust="spacingAndGlyphs">1.23223</text>
<text x="8.5" y="439" font-size="10" fill="#000" color="#000" textLength="150" lengthAdjust="spacingAndGlyphs">MACD(12,26,9) 0.001233 -0.000362</text>
<g shape-rendering="crispEdges">
<rect x="4" y="449" width="1" height="13" fill="#c0c0c0"/>
<rect x="8" y="449" width="1" height="14" fill="#c0c0c0"/>
<rect x="12" y="449" width="1" height="14" fill="#c0c0c0"/>
<rect x="16" y="449" width="1" height="14" fill="#c0c0c0"/>
<rect x="20" y="449" width="1" height="16" fill="#c0c0c0"/>
<rect x="24" y="449" width="1" height="18" fill="#c0c0c0"/>
<rect x="28" y="449" width="1" height="19" fill="#c0c0c0"/>
<rect x="32" y="449" width="1" height="21" fill="#c0c0c0"/>
<rect x="36" y="449" width="1" height="21" fill="#c0c0c0"/>
<rect x="40" y="449" width="1" height="21" fill="#c0c0c0"/>
<rect x="44" y="449" width="1" height="20" fill="#c0c0c0"/>
<rect x="48" y="449" width="1" height="20" fill="#c0c0c0"/>
<rect x="52" y="449" width="1" height="20" fill="#c0c0c0"/>
<rect x="56" y="449" width="1" height="20" fill="#c0c0c0"/>
<rect x="60" y="449" width="1" height="20" fill="#c0c0c0"/>
<rect x="64" y="449" width="1" height="18" fill="#c0c0c0"/>
<rect x="68" y="449" width="1" height="18" fill="#c0c0c0"/>
<rect x="72" y="449" width="1" height="18" fill="#c0c0c0"/>
<rect x="76" y="449" width="1" height="18" fill="#c0c0c0"/>
<rect x="80" y="449" width="1" height="17" fill="#c0c0c0"/>
<rect x="84" y="449" width="1" height="17" fill="#c0c0c0"/>
<rect x="88" y="449" width="1" height="15" fill="#c0c0c0"/>
<rect x="92" y="449" width="1" height="14" fill="#c0c0c0"/>
<rect x="96" y="449" width="1" height="14" fill="#c0c0c0"/>
<rect x="100" y="449" width="1" height="13" fill="#c0c0c0"/>
<rect x="104" y="449" width="1" height="12" fill="#c0c0c0"/>
<rect x="108" y="449" width="1" height="12" fill="#c0c0c0"/>
<rect x="112" y="449" width="1" height="12" fill="#c0c0c0"/>
<rect x="116" y="449" width="1" height="10" fill="#c0c0c0"/>
<rect x="120" y="449" width="1" height="10" fill="#c0c0c0"/>
<rect x="124" y="449" width="1" height="9" fill="#c0c0c0"/>
<rect x="128" y="449" width="1" height="8" fill="#c0c0c0"/>
<rect x="132" y="449" width="1" height="7" fill="#c0c0c0"/>
<rect x="136" y="449" width="1" height="6" fill="#c0c0c0"/>
<rect x="140" y="449" width="1" height="6" fill="#c0c0c0"/>
<rect x="144" y="449" width="1" height="4" fill="#c0c0c0"/>
<rect x="148" y="449" width="1" height="3" fill="#c0c0c0"/>
<rect x="152" y="449" width="1" height="2" fill="#c0c0c0"/>
<rect x="156" y="449" width="1" height="1" fill="#c0c0c0"/>
<rect x="160" y="448" width="1" height="2" fill="#c0c0c0"/>
<rect x="164" y="445" width="1" height="5" fill="#c0c0c0"/>
<rect x="168" y="441" width="1" height="9" fill="#c0c0c0"/>
<rect x="172" y="438" width="1" height="12" fill="#c0c0c0"/>
<rect x="176" y="437" width="1" height="13" fill="#c0c0c0"/>
<rect x="180" y="438" width="1" height="12" fill="#c0c0c0"/>
<rect x="184" y="438" width="1" height="12" fill="#c0c0c0"/>
<rect x="188" y="438" width="1" height="12" fill="#c0c0c0"/>
<rect x="192" y="439" width="1" height="11" fill="#c0c0c0"/>
<rect x="196" y="440" width="1" height="10" fill="#c0c0c0"/>
<rect x="200" y="440" width="1" height="10" fill="#c0c0c0"/>
<rect x="204" y="439" width="1" height="11" fill="#c0c0c0"/>
<rect x="208" y="438" width="1" height="12" fill="#c0c0c0"/>
<rect x="212" y="437" width="1" height="13" fill="#c0c0c0"/>
<rect x="216" y="439" width="1" height="11" fill="#c0c0c0"/>
<rect x="220" y="440" width="1" height="10" fill="#c0c0c0"/>
<rect x="224" y="440" width="1" height="10" fill="#c0c0c0"/>
<rect x="228" y="439" width="1" height="11" fill="#c0c0c0"/>
<rect x="232" y="438" width="1" height="12" fill="#c0c0c0"/>
<rect x="236" y="436" width="1" height="14" fill="#c0c0c0"/>
<rect x="240" y="437" width="1" height="13" fill="#c0c0c0"/>
<rect x="244" y="437" width="1" height="13" fill="#c0c0c0"/>
<rect x="248" y="437" width="1" height="13" fill="#c0c0c0"/>
<rect x="252" y="437" width="1" height="13" fill="#c0c0c0"/>
<rect x="256" y="436" width="1" height="14" fill="#c0c0c0"/>
<rect x="260" y="435" width="1" height="15" fill="#c0c0c0"/>
<rect x="264" y="434" width="1" height="16" fill="#c0c0c0"/>
<rect x="268" y="433" width="1" height="17" fill="#c0c0c0"/>
<rect x="272" y="431" width="1" height="19" fill="#c0c0c0"/>
<rect x="276" y="430" width="1" height="20" fill="#c0c0c0"/>
<rect x="280" y="432" width="1" height="18" fill="#c0c0c0"/>
<rect x="284" y="433" width="1" height="17" fill="#c0c0c0"/>
<rect x="288" y="434" width="1" height="16" fill="#c0c0c0"/>
<rect x="292" y="435" width="1" height="15" fill="#c0c0c0"/>
<rect x="296" y="437" width="1" height="13" fill="#c0c0c0"/>
<rect x="300" y="437" width="1" height="13" fill="#c0c0c0"/>
<rect x="304" y="439" width="1" height="11" fill="#c0c0c0"/>
<rect x="308" y="441" width="1" height="9" fill="#c0c0c0"/>
<rect x="312" y="443" width="1" height="7" fill="#c0c0c0"/>
<rect x="316" y="445" width="1" height="5" fill="#c0c0c0"/>
<rect x="320" y="445" width="1" height="5" fill="#c0c0c0"/>
<rect x="324" y="445" width="1" height="5" fill="#c0c0c0"/>
<rect x="328" y="445" width="1" height="5" fill="#c0c0c0"/>
<rect x="332" y="446" width="1" height="4" fill="#c0c0c0"/>
<rect x="336" y="446" width="1" height="4" fill="#c0c0c0"/>
<rect x="340" y="445" width="1" height="5" fill="#c0c0c0"/>
<rect x="344" y="445" width="1" height="5" fill="#c0c0c0"/>
<rect x="348" y="446" width="1" height="4" fill="#c0c0c0"/>
<rect x="352" y="446" width="1" height="4" fill="#c0c0c0"/>
<rect x="356" y="447" width="1" height="3" fill="#c0c0c0"/>
<rect x="360" y="447" width="1" height="3" fill="#c0c0c0"/>
<rect x="364" y="448" width="1" height="2" fill="#c0c0c0"/>
<rect x="368" y="447" width="1" height="3" fill="#c0c0c0"/>
<rect x="372" y="446" width="1" height="4" fill="#c0c0c0"/>
<rect x="376" y="444" width="1" height="6" fill="#c0c0c0"/>
<rect x="380" y="441" width="1" height="9" fill="#c0c0c0"/>
<rect x="384" y="438" width="1" height="12" fill="#c0c0c0"/>
<rect x="388" y="436" width="1" height="14" fill="#c0c0c0"/>
<rect x="392" y="437" width="1" height="13" fill="#c0c0c0"/>
<rect x="396" y="439" width="1" height="11" fill="#c0c0c0"/>
<rect x="400" y="441" width="1" height="9" fill="#c0c0c0"/>
<rect x="404" y="441" width="1" height="9" fill="#c0c0c0"/>
<rect x="408" y="442" width="1" height="8" fill="#c0c0c0"/>
<rect x="412" y="443" width="1" height="7" fill="#c0c0c0"/>
<rect x="416" y="444" width="1" height="6" fill="#c0c0c0"/>
<rect x="420" y="445" width="1" height="5" fill="#c0c0c0"/>
<rect x="424" y="446" width="1" height="4" fill="#c0c0c0"/>
<rect x="428" y="447" width="1" height="3" fill="#c0c0c0"/>
<rect x="432" y="449" width="1" height="1" fill="#c0c0c0"/>
<rect x="436" y="449" width="1" height="1" fill="#c0c0c0"/>
<rect x="440" y="449" width="1" height="2" fill="#c0c0c0"/>
<rect x="444" y="449" width="1" height="1" fill="#c0c0c0"/>
<rect x="448" y="448" width="1" height="2" fill="#c0c0c0"/>
<rect x="452" y="447" width="1" height="3" fill="#c0c0c0"/>
<rect x="456" y="447" width="1" height="3" fill="#c0c0c0"/>
<rect x="460" y="446" width="1" height="4" fill="#c0c0c0"/>
<rect x="464" y="446" width="1" height="4" fill="#c0c0c0"/>
<rect x="468" y="446" width="1" height="4" fill="#c0c0c0"/>
<rect x="472" y="446" width="1" height="4" fill="#c0c0c0"/>
<rect x="476" y="446" width="1" height="4" fill="#c0c0c0"/>
<rect x="480" y="444" width="1" height="6" fill="#c0c0c0"/>
<rect x="484" y="443" width="1" height="7" fill="#c0c0c0"/>
<rect x="488" y="442" width="1" height="8" fill="#c0c0c0"/>
<rect x="492" y="440" width="1" height="10" fill="#c0c0c0"/>
<rect x="496" y="440" width="1" height="10" fill="#c0c0c0"/>
<rect x="500" y="442" width="1" height="8" fill="#c0c0c0"/>
<rect x="504" y="443" width="1" height="7" fill="#c0c0c0"/>
<rect x="508" y="444" width="1" height="6" fill="#c0c0c0"/>
<rect x="512" y="446" width="1" height="4" fill="#c0c0c0"/>
<rect x="516" y="446" width="1" height="4" fill="#c0c0c0"/>
<rect x="520" y="445" width="1" height="5" fill="#c0c0c0"/>
<rect x="524" y="446" width="1" height="4" fill="#c0c0c0"/>
<rect x="528" y="447" width="1" height="3" fill="#c0c0c0"/>
<rect x="532" y="448" width="1" height="2" fill="#c0c0c0"/>
<rect x="536" y="449" width="1" height="1" fill="#c0c0c0"/>
<rect x="540" y="449" width="1" height="2" fill="#c0c0c0"/>
<rect x="544" y="449" width="1" height="3" fill="#c0c0c0"/>
<rect x="548" y="449" width="1" height="4" fill="#c0c0c0"/>
<rect x="552" y="449" width="1" height="7" fill="#c0c0c0"/>
<rect x="556" y="449" width="1" height="8" fill="#c0c0c0"/>
<rect x="560" y="449" width="1" height="9" fill="#c0c0c0"/>
<rect x="564" y="449" width="1" height="10" fill="#c0c0c0"/>
<rect x="568" y="449" width="1" height="11" fill="#c0c0c0"/>
<rect x="572" y="449" width="1" height="13" fill="#c0c0c0"/>
<rect x="576" y="449" width="1" height="14" fill="#c0c0c0"/>
<rect x="580" y="449" width="1" height="15" fill="#c0c0c0"/>
<rect x="584" y="449" width="1" height="15" fill="#c0c0c0"/>
<rect x="588" y="449" width="1" height="16" fill="#c0c0c0"/>
<rect x="592" y="449" width="1" height="16" fill="#c0c0c0"/>
<rect x="596" y="449" width="1" height="16" fill="#c0c0c0"/>
<rect x="600" y="449" width="1" height="16" fill="#c0c0c0"/>
<rect x="604" y="449" width="1" height="15" fill="#c0c0c0"/>
<rect x="608" y="449" width="1" height="14" fill="#c0c0c0"/>
<rect x="612" y="449" width="1" height="13" fill="#c0c0c0"/>
<rect x="616" y="449" width="1" height="13" fill="#c0c0c0"/>
<rect x="620" y="449" width="1" height="13" fill="#c0c0c0"/>
<rect x="624" y="449" width="1" height="12" fill="#c0c0c0"/>
<rect x="628" y="449" width="1" height="11" fill="#c0c0c0"/>
<rect x="632" y="449" width="1" height="10" fill="#c0c0c0"/>
<rect x="636" y="449" width="1" height="9" fill="#c0c0c0"/>
<rect x="640" y="449" width="1" height="9" fill="#c0c0c0"/>
<rect x="644" y="449" width="1" height="7" fill="#c0c0c0"/>
<rect x="648" y="449" width="1" height="6" fill="#c0c0c0"/>
<rect x="652" y="449" width="1" height="5" fill="#c0c0c0"/>
<rect x="656" y="449" width="1" height="4" fill="#c0c0c0"/>
<rect x="660" y="449" width="1" height="3" fill="#c0c0c0"/>
<rect x="664" y="449" width="1" height="2" fill="#c0c0c0"/>
<rect x="668" y="448" width="1" height="2" fill="#c0c0c0"/>
<rect x="672" y="447" width="1" height="3" fill="#c0c0c0"/>
<rect x="676" y="446" width="1" height="4" fill="#c0c0c0"/>
<rect x="680" y="446" width="1" height="4" fill="#c0c0c0"/>
<rect x="684" y="445" width="1" height="5" fill="#c0c0c0"/>
<rect x="688" y="443" width="1" height="7" fill="#c0c0c0"/>
<rect x="692" y="443" width="1" height="7" fill="#c0c0c0"/>
<rect x="696" y="441" width="1" height="9" fill="#c0c0c0"/>
<rect x="700" y="440" width="1" height="10" fill="#c0c0c0"/>
<rect x="704" y="439" width="1" height="11" fill="#c0c0c0"/>
<rect x="708" y="438" width="1" height="12" fill="#c0c0c0"/>
<rect x="712" y="438" width="1" height="12" fill="#c0c0c0"/>
<rect x="716" y="438" width="1" height="12" fill="#c0c0c0"/>
<rect x="720" y="436" width="1" height="14" fill="#c0c0c0"/>
<rect x="724" y="436" width="1" height="14" fill="#c0c0c0"/>
<rect x="728" y="436" width="1" height="14" fill="#c0c0c0"/>
<rect x="732" y="435" width="1" height="15" fill="#c0c0c0"/>
<rect x="736" y="434" width="1" height="16" fill="#c0c0c0"/>
<rect x="740" y="434" width="1" height="16" fill="#c0c0c0"/>
<rect x="744" y="433" width="1" height="17" fill="#c0c0c0"/>
<rect x="748" y="433" width="1" height="17" fill="#c0c0c0"/>
<rect x="752" y="434" width="1" height="16" fill="#c0c0c0"/>
<rect x="756" y="437" width="1" height="13" fill="#c0c0c0"/>
<rect x="760" y="439" width="1" height="11" fill="#c0c0c0"/>
<rect x="764" y="440" width="1" height="10" fill="#c0c0c0"/>
<rect x="768" y="441" width="1" height="9" fill="#c0c0c0"/>
<rect x="772" y="441" width="1" height="9" fill="#c0c0c0"/>
<rect x="776" y="441" width="1" height="9" fill="#c0c0c0"/>
<rect x="780" y="439" width="1" height="11" fill="#c0c0c0"/>
<rect x="784" y="439" width="1" height="11" fill="#c0c0c0"/>
<rect x="788" y="439" width="1" height="11" fill="#c0c0c0"/>
<rect x="792" y="438" width="1" height="12" fill="#c0c0c0"/>
<rect x="796" y="437" width="1" height="13" fill="#c0c0c0"/>
<rect x="800" y="436" width="1" height="14" fill="#c0c0c0"/>
<rect x="804" y="436" width="1" height="14" fill="#c0c0c0"/>
<rect x="808" y="437" width="1" height="13" fill="#c0c0c0"/>
<rect x="812" y="438" width="1" height="12" fill="#c0c0c0"/>
<rect x="816" y="439" width="1" height="11" fill="#c0c0c0"/>
<rect x="820" y="440" width="1" height="10" fill="#c0c0c0"/>
<rect x="824" y="442" width="1" height="8" fill="#c0c0c0"/>
<rect x="828" y="442" width="1" height="8" fill="#c0c0c0"/>
<rect x="832" y="443" width="1" height="7" fill="#c0c0c0"/>
<rect x="836" y="445" width="1" height="5" fill="#c0c0c0"/>
<rect x="840" y="448" width="1" height="2" fill="#c0c0c0"/>
<rect x="844" y="449" width="1" height="1" fill="#c0c0c0"/>
<rect x="848" y="449" width="1" height="1" fill="#c0c0c0"/>
<rect x="852" y="449" width="1" height="2" fill="#c0c0c0"/>
<rect x="856" y="449" width="1" height="2" fill="#c0c0c0"/>
<rect x="860" y="449" width="1" height="2" fill="#c0c0c0"/>
<rect x="864" y="449" width="1" height="4" fill="#c0c0c0"/>
<rect x="868" y="449" width="1" height="5" fill="#c0c0c0"/>
<rect x="872" y="449" width="1" height="5" fill="#c0c0c0"/>
<rect x="876" y="449" width="1" height="7" fill="#c0c0c0"/>
<rect x="880" y="449" width="1" height="9" fill="#c0c0c0"/>
<rect x="884" y="449" width="1" height="11" fill="#c0c0c0"/>
<rect x="888" y="449" width="1" height="11" fill="#c0c0c0"/>
<rect x="892" y="449" width="1" height="12" fill="#c0c0c0"/>
<rect x="896" y="449" width="1" height="13" fill="#c0c0c0"/>
<rect x="900" y="449" width="1" height="13" fill="#c0c0c0"/>
<rect x="904" y="449" width="1" height="13" fill="#c0c0c0"/>
<rect x="908" y="449" width="1" height="14" fill="#c0c0c0"/>
<rect x="912" y="449" width="1" height="12" fill="#c0c0c0"/>
<rect x="916" y="449" width="1" height="12" fill="#c0c0c0"/>
<rect x="920" y="449" width="1" height="10" fill="#c0c0c0"/>
<rect x="924" y="449" width="1" height="8" fill="#c0c0c0"/>
<rect x="928" y="449" width="1" height="7" fill="#c0c0c0"/>
<rect x="932" y="449" width="1" height="4" fill="#c0c0c0"/>
<rect x="936" y="449" width="1" height="1" fill="#c0c0c0"/>
<rect x="940" y="448" width="1" height="2" fill="#c0c0c0"/>
<rect x="944" y="447" width="1" height="3" fill="#c0c0c0"/>
<rect x="948" y="447" width="1" height="3" fill="#c0c0c0"/>
<rect x="952" y="447" width="1" height="3" fill="#c0c0c0"/>
<rect x="956" y="447" width="1" height="3" fill="#c0c0c0"/>
</g>
<path d="M282 432h1v1h-1zM286 432h3v1h-3zM292 432h3v1h-3zM298 432h3v1h-3zM274 433h3v1h-3zM280 433h2v1h-2zM304 433h2v1h-2zM750 433h1v1h-1zM754 433h3v1h-3zM270 434h1v1h-1zM306 434h1v1h-1zM742 434h3v1h-3zM748 434h2v1h-2zM760 434h3v1h-3zM262 435h3v1h-3zM268 435h2v1h-2zM310 435h1v1h-1zM736 435h3v1h-3zM766 435h3v1h-3zM256 436h3v1h-3zM311 436h2v1h-2zM730 436h3v1h-3zM772 436h3v1h-3zM202 437h3v1h-3zM208 437h3v1h-3zM234 437h1v1h-1zM238 437h3v1h-3zM244 437h3v1h-3zM250 437h3v1h-3zM316 437h2v1h-2zM724 437h3v1h-3zM778 437h3v1h-3zM802 437h3v1h-3zM808 437h3v1h-3zM814 437h3v1h-3zM820 437h3v1h-3zM826 437h3v1h-3zM196 438h3v1h-3zM214 438h3v1h-3zM220 438h3v1h-3zM226 438h3v1h-3zM232 438h2v1h-2zM318 438h1v1h-1zM412 438h2v1h-2zM718 438h3v1h-3zM784 438h3v1h-3zM796 438h3v1h-3zM832 438h2v1h-2zM190 439h3v1h-3zM322 439h1v1h-1zM402 439h1v1h-1zM406 439h3v1h-3zM414 439h1v1h-1zM714 439h1v1h-1zM790 439h3v1h-3zM834 439h1v1h-1zM323 440h2v1h-2zM394 440h3v1h-3zM400 440h2v1h-2zM418 440h3v1h-3zM712 440h2v1h-2zM838 440h3v1h-3zM185 441h2v1h-2zM328 441h2v1h-2zM390 441h1v1h-1zM424 441h2v1h-2zM706 441h3v1h-3zM184 442h1v1h-1zM330 442h1v1h-1zM388 442h2v1h-2zM426 442h1v1h-1zM498 442h1v1h-1zM502 442h3v1h-3zM508 442h3v1h-3zM514 442h3v1h-3zM520 442h3v1h-3zM702 442h1v1h-1zM844 442h2v1h-2zM179 443h2v1h-2zM334 443h3v1h-3zM340 443h2v1h-2zM430 443h3v1h-3zM490 443h3v1h-3zM496 443h2v1h-2zM526 443h3v1h-3zM700 443h2v1h-2zM846 443h1v1h-1zM178 444h1v1h-1zM342 444h1v1h-1zM346 444h3v1h-3zM352 444h3v1h-3zM382 444h3v1h-3zM436 444h2v1h-2zM486 444h1v1h-1zM532 444h2v1h-2zM695 444h2v1h-2zM850 444h1v1h-1zM358 445h3v1h-3zM364 445h3v1h-3zM370 445h3v1h-3zM376 445h3v1h-3zM438 445h1v1h-1zM478 445h3v1h-3zM484 445h2v1h-2zM534 445h1v1h-1zM694 445h1v1h-1zM851 445h2v1h-2zM173 446h2v1h-2zM442 446h3v1h-3zM472 446h3v1h-3zM538 446h3v1h-3zM690 446h1v1h-1zM856 446h2v1h-2zM172 447h1v1h-1zM448 447h3v1h-3zM454 447h3v1h-3zM460 447h3v1h-3zM466 447h3v1h-3zM544 447h2v1h-2zM688 447h2v1h-2zM858 447h1v1h-1zM546 448h1v1h-1zM682 448h3v1h-3zM862 448h3v1h-3zM167 449h2v1h-2zM550 449h3v1h-3zM678 449h1v1h-1zM868 449h2v1h-2zM954 449h1v1h-1zM166 450h1v1h-1zM556 450h2v1h-2zM676 450h2v1h-2zM870 450h1v1h-1zM952 450h2v1h-2zM162 451h1v1h-1zM558 451h1v1h-1zM671 451h2v1h-2zM874 451h3v1h-3zM160 452h2v1h-2zM562 452h1v1h-1zM670 452h1v1h-1zM880 452h2v1h-2zM946 452h3v1h-3zM154 453h3v1h-3zM563 453h2v1h-2zM666 453h1v1h-1zM882 453h1v1h-1zM150 454h1v1h-1zM568 454h2v1h-2zM664 454h2v1h-2zM886 454h3v1h-3zM941 454h2v1h-2zM148 455h2v1h-2zM570 455h1v1h-1zM658 455h3v1h-3zM892 455h2v1h-2zM940 455h1v1h-1zM4 456h2v1h-2zM142 456h3v1h-3zM574 456h3v1h-3zM654 456h1v1h-1zM894 456h1v1h-1zM6 457h1v1h-1zM136 457h3v1h-3zM652 457h2v1h-2zM898 457h3v1h-3zM934 457h3v1h-3zM10 458h3v1h-3zM130 458h3v1h-3zM580 458h2v1h-2zM646 458h3v1h-3zM904 458h2v1h-2zM930 458h1v1h-1zM16 459h2v1h-2zM126 459h1v1h-1zM582 459h1v1h-1zM640 459h3v1h-3zM906 459h1v1h-1zM928 459h2v1h-2zM18 460h1v1h-1zM118 460h3v1h-3zM124 460h2v1h-2zM586 460h3v1h-3zM634 460h3v1h-3zM910 460h3v1h-3zM916 460h3v1h-3zM922 460h3v1h-3zM22 461h3v1h-3zM114 461h1v1h-1zM592 461h2v1h-2zM628 461h3v1h-3zM28 462h2v1h-2zM106 462h3v1h-3zM112 462h2v1h-2zM594 462h1v1h-1zM598 462h3v1h-3zM618 462h1v1h-1zM622 462h3v1h-3zM30 463h1v1h-1zM102 463h1v1h-1zM604 463h3v1h-3zM610 463h3v1h-3zM616 463h2v1h-2zM34 464h3v1h-3zM94 464h3v1h-3zM100 464h2v1h-2zM40 465h2v1h-2zM90 465h1v1h-1zM42 466h1v1h-1zM82 466h3v1h-3zM88 466h2v1h-2zM46 467h3v1h-3zM52 467h2v1h-2zM70 467h3v1h-3zM76 467h3v1h-3zM54 468h1v1h-1zM58 468h3v1h-3zM64 468h3v1h-3z" fill="#ff0000" shape-rendering="crispEdges"/>
<text x="1206" y="437.2" font-size="10" fill="#000" color="#000" textLength="39.6" lengthAdjust="spacingAndGlyphs">0.011009</text>
<text x="1206" y="453.2" font-size="10" fill="#000" color="#000" textLength="18.6" lengthAdjust="spacingAndGlyphs">0.00</text>
<text x="1206" y="468.5" font-size="10" fill="#000" color="#000" textLength="37.6" lengthAdjust="spacingAndGlyphs">-0.01190</text>
<text x="8.5" y="487" font-size="10" fill="#000" color="#000" textLength="67.5" lengthAdjust="spacingAndGlyphs">RSI(14) 51.7123</text>
<line x1="4" y1="506.5" x2="1203" y2="506.5" stroke="#c0c0c0" stroke-width="1" stroke-dasharray="3,3"/>
<line x1="4" y1="547.5" x2="1203" y2="547.5" stroke="#c0c0c0" stroke-width="1" stroke-dasharray="3,3"/>
<path d="M170 500h3v1h-3zM272 500h1v1h-1zM168 501h2v1h-2zM172 501h1v1h-1zM271 501h2v1h-2zM382 501h3v1h-3zM167 502h1v1h-1zM173 502h1v1h-1zM271 502h1v1h-1zM273 502h1v1h-1zM380 502h2v1h-2zM385 502h1v1h-1zM720 502h1v1h-1zM166 503h1v1h-1zM173 503h1v1h-1zM270 503h1v1h-1zM273 503h1v1h-1zM380 503h1v1h-1zM386 503h2v1h-2zM720 503h1v1h-1zM743 503h2v1h-2zM166 504h1v1h-1zM173 504h1v1h-1zM270 504h1v1h-1zM274 504h1v1h-1zM379 504h1v1h-1zM388 504h1v1h-1zM704 504h1v1h-1zM719 504h1v1h-1zM721 504h1v1h-1zM741 504h2v1h-2zM745 504h1v1h-1zM165 505h1v1h-1zM174 505h1v1h-1zM269 505h1v1h-1zM274 505h1v1h-1zM379 505h1v1h-1zM388 505h1v1h-1zM703 505h1v1h-1zM705 505h1v1h-1zM719 505h1v1h-1zM721 505h1v1h-1zM736 505h5v1h-5zM746 505h1v1h-1zM164 506h1v1h-1zM174 506h1v1h-1zM269 506h1v1h-1zM275 506h1v1h-1zM378 506h1v1h-1zM388 506h1v1h-1zM702 506h1v1h-1zM706 506h1v1h-1zM718 506h1v1h-1zM722 506h1v1h-1zM734 506h2v1h-2zM747 506h1v1h-1zM163 507h1v1h-1zM175 507h1v1h-1zM262 507h7v1h-7zM275 507h1v1h-1zM378 507h1v1h-1zM389 507h1v1h-1zM696 507h2v1h-2zM701 507h1v1h-1zM706 507h1v1h-1zM718 507h1v1h-1zM722 507h1v1h-1zM733 507h1v1h-1zM748 507h1v1h-1zM162 508h1v1h-1zM175 508h1v1h-1zM212 508h1v1h-1zM236 508h1v1h-1zM260 508h2v1h-2zM276 508h1v1h-1zM378 508h1v1h-1zM389 508h1v1h-1zM668 508h1v1h-1zM695 508h1v1h-1zM698 508h3v1h-3zM707 508h1v1h-1zM717 508h1v1h-1zM723 508h1v1h-1zM731 508h2v1h-2zM749 508h1v1h-1zM161 509h1v1h-1zM175 509h1v1h-1zM211 509h2v1h-2zM234 509h3v1h-3zM259 509h1v1h-1zM276 509h1v1h-1zM377 509h1v1h-1zM389 509h1v1h-1zM668 509h2v1h-2zM694 509h1v1h-1zM708 509h1v1h-1zM717 509h1v1h-1zM723 509h1v1h-1zM729 509h2v1h-2zM749 509h1v1h-1zM800 509h1v1h-1zM160 510h1v1h-1zM176 510h1v1h-1zM210 510h1v1h-1zM213 510h1v1h-1zM233 510h1v1h-1zM237 510h1v1h-1zM258 510h1v1h-1zM276 510h1v1h-1zM377 510h1v1h-1zM389 510h1v1h-1zM667 510h1v1h-1zM669 510h1v1h-1zM688 510h1v1h-1zM694 510h1v1h-1zM709 510h2v1h-2zM716 510h1v1h-1zM724 510h1v1h-1zM726 510h3v1h-3zM750 510h1v1h-1zM780 510h1v1h-1zM798 510h2v1h-2zM801 510h2v1h-2zM160 511h1v1h-1zM176 511h1v1h-1zM204 511h2v1h-2zM209 511h1v1h-1zM213 511h1v1h-1zM231 511h2v1h-2zM237 511h1v1h-1zM258 511h1v1h-1zM277 511h1v1h-1zM376 511h1v1h-1zM390 511h1v1h-1zM667 511h1v1h-1zM670 511h1v1h-1zM687 511h1v1h-1zM689 511h2v1h-2zM693 511h1v1h-1zM711 511h6v1h-6zM724 511h2v1h-2zM750 511h1v1h-1zM779 511h1v1h-1zM781 511h1v1h-1zM797 511h1v1h-1zM803 511h2v1h-2zM159 512h1v1h-1zM177 512h1v1h-1zM203 512h1v1h-1zM206 512h3v1h-3zM213 512h1v1h-1zM229 512h2v1h-2zM238 512h1v1h-1zM252 512h2v1h-2zM257 512h1v1h-1zM277 512h1v1h-1zM376 512h1v1h-1zM390 512h1v1h-1zM490 512h3v1h-3zM666 512h1v1h-1zM671 512h1v1h-1zM686 512h1v1h-1zM691 512h2v1h-2zM751 512h1v1h-1zM778 512h1v1h-1zM782 512h1v1h-1zM794 512h3v1h-3zM805 512h1v1h-1zM159 513h1v1h-1zM177 513h1v1h-1zM202 513h1v1h-1zM213 513h1v1h-1zM228 513h1v1h-1zM238 513h1v1h-1zM251 513h1v1h-1zM254 513h3v1h-3zM278 513h1v1h-1zM374 513h2v1h-2zM390 513h1v1h-1zM487 513h3v1h-3zM493 513h1v1h-1zM666 513h1v1h-1zM671 513h1v1h-1zM685 513h1v1h-1zM751 513h1v1h-1zM777 513h1v1h-1zM783 513h1v1h-1zM792 513h2v1h-2zM805 513h1v1h-1zM936 513h1v1h-1zM158 514h1v1h-1zM178 514h1v1h-1zM202 514h1v1h-1zM214 514h1v1h-1zM227 514h1v1h-1zM239 514h1v1h-1zM250 514h1v1h-1zM278 514h1v1h-1zM373 514h1v1h-1zM390 514h1v1h-1zM485 514h2v1h-2zM494 514h2v1h-2zM666 514h1v1h-1zM672 514h5v1h-5zM684 514h1v1h-1zM752 514h1v1h-1zM776 514h1v1h-1zM784 514h1v1h-1zM791 514h1v1h-1zM806 514h1v1h-1zM934 514h2v1h-2zM937 514h1v1h-1zM158 515h1v1h-1zM178 515h1v1h-1zM201 515h1v1h-1zM214 515h1v1h-1zM227 515h1v1h-1zM239 515h1v1h-1zM249 515h1v1h-1zM279 515h1v1h-1zM372 515h1v1h-1zM390 515h1v1h-1zM482 515h3v1h-3zM496 515h1v1h-1zM665 515h1v1h-1zM677 515h1v1h-1zM683 515h1v1h-1zM752 515h1v1h-1zM775 515h1v1h-1zM785 515h1v1h-1zM791 515h1v1h-1zM806 515h1v1h-1zM933 515h1v1h-1zM938 515h2v1h-2zM157 516h1v1h-1zM179 516h1v1h-1zM200 516h1v1h-1zM214 516h1v1h-1zM226 516h1v1h-1zM240 516h1v1h-1zM246 516h3v1h-3zM279 516h1v1h-1zM371 516h1v1h-1zM391 516h1v1h-1zM480 516h2v1h-2zM496 516h1v1h-1zM665 516h1v1h-1zM677 516h1v1h-1zM683 516h1v1h-1zM752 516h1v1h-1zM775 516h1v1h-1zM785 516h1v1h-1zM790 516h1v1h-1zM807 516h1v1h-1zM932 516h1v1h-1zM940 516h1v1h-1zM157 517h1v1h-1zM179 517h1v1h-1zM186 517h4v1h-4zM199 517h1v1h-1zM214 517h1v1h-1zM225 517h1v1h-1zM240 517h6v1h-6zM280 517h1v1h-1zM370 517h1v1h-1zM391 517h1v1h-1zM479 517h1v1h-1zM497 517h1v1h-1zM664 517h1v1h-1zM678 517h1v1h-1zM682 517h1v1h-1zM753 517h1v1h-1zM774 517h1v1h-1zM786 517h1v1h-1zM790 517h1v1h-1zM807 517h1v1h-1zM931 517h1v1h-1zM941 517h1v1h-1zM156 518h1v1h-1zM180 518h6v1h-6zM190 518h3v1h-3zM198 518h1v1h-1zM215 518h1v1h-1zM225 518h1v1h-1zM280 518h2v1h-2zM286 518h4v1h-4zM300 518h1v1h-1zM370 518h1v1h-1zM391 518h1v1h-1zM448 518h1v1h-1zM478 518h1v1h-1zM497 518h1v1h-1zM664 518h1v1h-1zM679 518h1v1h-1zM681 518h1v1h-1zM753 518h1v1h-1zM774 518h1v1h-1zM787 518h1v1h-1zM789 518h1v1h-1zM808 518h1v1h-1zM931 518h1v1h-1zM942 518h1v1h-1zM156 519h1v1h-1zM193 519h2v1h-2zM197 519h1v1h-1zM215 519h1v1h-1zM224 519h1v1h-1zM282 519h4v1h-4zM290 519h3v1h-3zM299 519h1v1h-1zM301 519h1v1h-1zM369 519h1v1h-1zM391 519h1v1h-1zM446 519h2v1h-2zM449 519h1v1h-1zM468 519h1v1h-1zM478 519h1v1h-1zM497 519h1v1h-1zM520 519h1v1h-1zM664 519h1v1h-1zM679 519h1v1h-1zM681 519h1v1h-1zM753 519h1v1h-1zM773 519h1v1h-1zM787 519h1v1h-1zM789 519h1v1h-1zM808 519h1v1h-1zM930 519h1v1h-1zM943 519h1v1h-1zM155 520h1v1h-1zM195 520h2v1h-2zM215 520h1v1h-1zM222 520h2v1h-2zM293 520h1v1h-1zM298 520h1v1h-1zM301 520h1v1h-1zM338 520h7v1h-7zM368 520h1v1h-1zM392 520h1v1h-1zM404 520h1v1h-1zM445 520h1v1h-1zM450 520h2v1h-2zM458 520h3v1h-3zM467 520h1v1h-1zM469 520h1v1h-1zM477 520h1v1h-1zM498 520h1v1h-1zM519 520h1v1h-1zM521 520h1v1h-1zM663 520h1v1h-1zM680 520h1v1h-1zM754 520h1v1h-1zM768 520h2v1h-2zM773 520h1v1h-1zM788 520h1v1h-1zM809 520h1v1h-1zM930 520h1v1h-1zM944 520h1v1h-1zM144 521h2v1h-2zM155 521h1v1h-1zM215 521h1v1h-1zM221 521h1v1h-1zM294 521h2v1h-2zM297 521h1v1h-1zM302 521h1v1h-1zM327 521h2v1h-2zM336 521h2v1h-2zM345 521h1v1h-1zM367 521h1v1h-1zM392 521h1v1h-1zM403 521h1v1h-1zM405 521h1v1h-1zM444 521h1v1h-1zM452 521h6v1h-6zM461 521h1v1h-1zM466 521h1v1h-1zM469 521h1v1h-1zM476 521h1v1h-1zM498 521h1v1h-1zM518 521h1v1h-1zM521 521h1v1h-1zM663 521h1v1h-1zM754 521h1v1h-1zM766 521h2v1h-2zM770 521h3v1h-3zM810 521h2v1h-2zM929 521h1v1h-1zM945 521h1v1h-1zM144 522h1v1h-1zM146 522h3v1h-3zM154 522h1v1h-1zM216 522h1v1h-1zM218 522h3v1h-3zM296 522h1v1h-1zM302 522h1v1h-1zM325 522h2v1h-2zM329 522h1v1h-1zM335 522h1v1h-1zM345 522h1v1h-1zM367 522h1v1h-1zM392 522h1v1h-1zM403 522h1v1h-1zM406 522h1v1h-1zM444 522h1v1h-1zM462 522h2v1h-2zM465 522h1v1h-1zM470 522h1v1h-1zM475 522h1v1h-1zM498 522h1v1h-1zM517 522h1v1h-1zM522 522h1v1h-1zM646 522h3v1h-3zM662 522h1v1h-1zM754 522h1v1h-1zM765 522h1v1h-1zM812 522h2v1h-2zM818 522h3v1h-3zM929 522h1v1h-1zM946 522h2v1h-2zM143 523h1v1h-1zM149 523h1v1h-1zM153 523h1v1h-1zM216 523h2v1h-2zM303 523h1v1h-1zM324 523h1v1h-1zM330 523h1v1h-1zM334 523h1v1h-1zM346 523h1v1h-1zM366 523h1v1h-1zM393 523h1v1h-1zM402 523h1v1h-1zM406 523h1v1h-1zM443 523h1v1h-1zM464 523h1v1h-1zM470 523h1v1h-1zM474 523h1v1h-1zM499 523h1v1h-1zM516 523h1v1h-1zM522 523h1v1h-1zM644 523h2v1h-2zM649 523h2v1h-2zM662 523h1v1h-1zM754 523h1v1h-1zM764 523h1v1h-1zM814 523h4v1h-4zM821 523h1v1h-1zM827 523h2v1h-2zM928 523h1v1h-1zM948 523h2v1h-2zM143 524h1v1h-1zM150 524h2v1h-2zM153 524h1v1h-1zM303 524h1v1h-1zM322 524h2v1h-2zM330 524h1v1h-1zM334 524h1v1h-1zM347 524h1v1h-1zM365 524h1v1h-1zM394 524h1v1h-1zM402 524h1v1h-1zM407 524h1v1h-1zM443 524h1v1h-1zM471 524h1v1h-1zM474 524h1v1h-1zM499 524h1v1h-1zM516 524h1v1h-1zM523 524h1v1h-1zM644 524h1v1h-1zM651 524h2v1h-2zM661 524h1v1h-1zM755 524h1v1h-1zM763 524h1v1h-1zM822 524h2v1h-2zM825 524h2v1h-2zM829 524h1v1h-1zM927 524h1v1h-1zM950 524h4v1h-4zM142 525h1v1h-1zM152 525h1v1h-1zM304 525h1v1h-1zM321 525h1v1h-1zM331 525h1v1h-1zM333 525h1v1h-1zM347 525h1v1h-1zM365 525h1v1h-1zM394 525h1v1h-1zM401 525h1v1h-1zM408 525h2v1h-2zM419 525h6v1h-6zM443 525h1v1h-1zM471 525h1v1h-1zM473 525h1v1h-1zM499 525h1v1h-1zM515 525h1v1h-1zM523 525h1v1h-1zM643 525h1v1h-1zM653 525h2v1h-2zM661 525h1v1h-1zM755 525h1v1h-1zM762 525h1v1h-1zM824 525h1v1h-1zM830 525h2v1h-2zM926 525h1v1h-1zM954 525h3v1h-3zM142 526h1v1h-1zM305 526h1v1h-1zM320 526h1v1h-1zM332 526h1v1h-1zM348 526h2v1h-2zM354 526h11v1h-11zM395 526h1v1h-1zM401 526h1v1h-1zM410 526h4v1h-4zM417 526h2v1h-2zM425 526h1v1h-1zM442 526h1v1h-1zM472 526h1v1h-1zM500 526h1v1h-1zM515 526h1v1h-1zM524 526h1v1h-1zM643 526h1v1h-1zM655 526h6v1h-6zM755 526h1v1h-1zM762 526h1v1h-1zM832 526h1v1h-1zM856 526h1v1h-1zM920 526h2v1h-2zM925 526h1v1h-1zM132 527h5v1h-5zM141 527h1v1h-1zM306 527h1v1h-1zM318 527h2v1h-2zM350 527h4v1h-4zM396 527h5v1h-5zM414 527h3v1h-3zM425 527h1v1h-1zM442 527h1v1h-1zM500 527h6v1h-6zM514 527h1v1h-1zM525 527h1v1h-1zM643 527h1v1h-1zM756 527h1v1h-1zM761 527h1v1h-1zM833 527h1v1h-1zM848 527h1v1h-1zM855 527h1v1h-1zM857 527h1v1h-1zM919 527h1v1h-1zM922 527h3v1h-3zM131 528h1v1h-1zM137 528h1v1h-1zM141 528h1v1h-1zM306 528h1v1h-1zM311 528h3v1h-3zM317 528h1v1h-1zM426 528h1v1h-1zM441 528h1v1h-1zM506 528h3v1h-3zM514 528h1v1h-1zM526 528h1v1h-1zM642 528h1v1h-1zM756 528h5v1h-5zM834 528h1v1h-1zM848 528h2v1h-2zM854 528h1v1h-1zM858 528h2v1h-2zM919 528h1v1h-1zM130 529h1v1h-1zM138 529h3v1h-3zM307 529h1v1h-1zM309 529h2v1h-2zM314 529h3v1h-3zM427 529h1v1h-1zM441 529h1v1h-1zM509 529h1v1h-1zM513 529h1v1h-1zM527 529h1v1h-1zM642 529h1v1h-1zM835 529h1v1h-1zM847 529h1v1h-1zM850 529h1v1h-1zM854 529h1v1h-1zM860 529h1v1h-1zM918 529h1v1h-1zM116 530h1v1h-1zM130 530h1v1h-1zM140 530h1v1h-1zM308 530h1v1h-1zM427 530h1v1h-1zM441 530h1v1h-1zM510 530h2v1h-2zM513 530h1v1h-1zM528 530h5v1h-5zM641 530h1v1h-1zM836 530h1v1h-1zM847 530h1v1h-1zM851 530h1v1h-1zM853 530h1v1h-1zM861 530h1v1h-1zM917 530h1v1h-1zM116 531h2v1h-2zM129 531h1v1h-1zM428 531h1v1h-1zM440 531h1v1h-1zM512 531h1v1h-1zM533 531h1v1h-1zM636 531h1v1h-1zM641 531h1v1h-1zM836 531h1v1h-1zM846 531h1v1h-1zM852 531h1v1h-1zM861 531h1v1h-1zM917 531h1v1h-1zM88 532h1v1h-1zM115 532h1v1h-1zM118 532h2v1h-2zM126 532h3v1h-3zM429 532h1v1h-1zM435 532h6v1h-6zM534 532h2v1h-2zM635 532h1v1h-1zM637 532h1v1h-1zM641 532h1v1h-1zM837 532h1v1h-1zM846 532h1v1h-1zM862 532h1v1h-1zM912 532h5v1h-5zM88 533h2v1h-2zM115 533h1v1h-1zM120 533h6v1h-6zM430 533h2v1h-2zM433 533h2v1h-2zM536 533h2v1h-2zM542 533h3v1h-3zM635 533h1v1h-1zM638 533h3v1h-3zM837 533h1v1h-1zM846 533h1v1h-1zM863 533h1v1h-1zM870 533h3v1h-3zM912 533h1v1h-1zM87 534h1v1h-1zM89 534h1v1h-1zM114 534h1v1h-1zM432 534h1v1h-1zM538 534h4v1h-4zM545 534h1v1h-1zM634 534h1v1h-1zM640 534h1v1h-1zM838 534h1v1h-1zM845 534h1v1h-1zM863 534h1v1h-1zM866 534h4v1h-4zM873 534h1v1h-1zM911 534h1v1h-1zM87 535h1v1h-1zM90 535h1v1h-1zM114 535h1v1h-1zM546 535h1v1h-1zM633 535h1v1h-1zM838 535h1v1h-1zM845 535h1v1h-1zM864 535h2v1h-2zM873 535h1v1h-1zM911 535h1v1h-1zM86 536h1v1h-1zM91 536h1v1h-1zM114 536h1v1h-1zM547 536h1v1h-1zM628 536h2v1h-2zM633 536h1v1h-1zM839 536h1v1h-1zM844 536h1v1h-1zM874 536h1v1h-1zM888 536h1v1h-1zM910 536h1v1h-1zM86 537h1v1h-1zM91 537h1v1h-1zM94 537h7v1h-7zM107 537h2v1h-2zM113 537h1v1h-1zM548 537h1v1h-1zM626 537h2v1h-2zM630 537h3v1h-3zM839 537h1v1h-1zM843 537h2v1h-2zM875 537h1v1h-1zM887 537h1v1h-1zM889 537h2v1h-2zM910 537h1v1h-1zM64 538h1v1h-1zM86 538h1v1h-1zM92 538h2v1h-2zM101 538h2v1h-2zM105 538h2v1h-2zM109 538h1v1h-1zM113 538h1v1h-1zM549 538h1v1h-1zM625 538h1v1h-1zM840 538h3v1h-3zM875 538h1v1h-1zM887 538h1v1h-1zM891 538h2v1h-2zM909 538h1v1h-1zM64 539h2v1h-2zM85 539h1v1h-1zM103 539h2v1h-2zM110 539h3v1h-3zM549 539h1v1h-1zM610 539h3v1h-3zM624 539h1v1h-1zM840 539h1v1h-1zM876 539h1v1h-1zM886 539h1v1h-1zM893 539h2v1h-2zM903 539h3v1h-3zM909 539h1v1h-1zM63 540h1v1h-1zM65 540h1v1h-1zM85 540h1v1h-1zM112 540h1v1h-1zM550 540h1v1h-1zM556 540h9v1h-9zM607 540h3v1h-3zM613 540h2v1h-2zM623 540h1v1h-1zM877 540h1v1h-1zM885 540h1v1h-1zM895 540h3v1h-3zM901 540h2v1h-2zM906 540h3v1h-3zM63 541h1v1h-1zM66 541h1v1h-1zM84 541h1v1h-1zM551 541h1v1h-1zM554 541h2v1h-2zM565 541h1v1h-1zM605 541h2v1h-2zM615 541h2v1h-2zM622 541h1v1h-1zM878 541h1v1h-1zM885 541h1v1h-1zM898 541h3v1h-3zM44 542h1v1h-1zM62 542h1v1h-1zM67 542h1v1h-1zM83 542h2v1h-2zM551 542h1v1h-1zM553 542h1v1h-1zM566 542h2v1h-2zM602 542h3v1h-3zM617 542h2v1h-2zM621 542h1v1h-1zM879 542h1v1h-1zM882 542h3v1h-3zM12 543h1v1h-1zM44 543h2v1h-2zM62 543h1v1h-1zM67 543h1v1h-1zM74 543h4v1h-4zM81 543h2v1h-2zM552 543h1v1h-1zM568 543h1v1h-1zM596 543h6v1h-6zM619 543h2v1h-2zM880 543h2v1h-2zM10 544h2v1h-2zM13 544h1v1h-1zM43 544h1v1h-1zM46 544h1v1h-1zM62 544h1v1h-1zM68 544h6v1h-6zM78 544h3v1h-3zM569 544h1v1h-1zM595 544h1v1h-1zM9 545h1v1h-1zM14 545h2v1h-2zM43 545h1v1h-1zM46 545h1v1h-1zM61 545h1v1h-1zM570 545h1v1h-1zM595 545h1v1h-1zM6 546h3v1h-3zM16 546h1v1h-1zM42 546h1v1h-1zM47 546h1v1h-1zM61 546h1v1h-1zM570 546h1v1h-1zM575 546h3v1h-3zM594 546h1v1h-1zM4 547h2v1h-2zM17 547h1v1h-1zM42 547h1v1h-1zM48 547h5v1h-5zM60 547h1v1h-1zM571 547h1v1h-1zM573 547h2v1h-2zM578 547h8v1h-8zM594 547h1v1h-1zM17 548h1v1h-1zM41 548h1v1h-1zM53 548h1v1h-1zM59 548h2v1h-2zM572 548h1v1h-1zM586 548h3v1h-3zM593 548h1v1h-1zM18 549h1v1h-1zM41 549h1v1h-1zM54 549h2v1h-2zM57 549h2v1h-2zM589 549h2v1h-2zM593 549h1v1h-1zM18 550h1v1h-1zM40 550h1v1h-1zM56 550h1v1h-1zM591 550h2v1h-2zM19 551h1v1h-1zM40 551h1v1h-1zM19 552h1v1h-1zM39 552h1v1h-1zM20 553h5v1h-5zM38 553h1v1h-1zM25 554h2v1h-2zM37 554h1v1h-1zM27 555h3v1h-3zM34 555h3v1h-3zM30 556h4v1h-4z" fill="#1e90ff" shape-rendering="crispEdges"/>
<text x="1205.5" y="484.8" font-size="10" fill="#000" color="#000">100</text>
<text x="1205.5" y="509.6" font-size="10" fill="#000" color="#000">70</text>
<text x="1205.5" y="550.5" font-size="10" fill="#000" color="#000">30</text>
<text x="1205.5" y="575.3" font-size="10" fill="#000" color="#000">0</text>
<text x="3" y="591" font-size="10" fill="#000" color="#000" textLength="49.1" lengthAdjust="spacingAndGlyphs">2 May 2021</text>
<text x="67" y="591" font-size="10" fill="#000" color="#000" textLength="53.2" lengthAdjust="spacingAndGlyphs">20 May 2021</text>
<text x="131" y="591" font-size="10" fill="#000" color="#000" textLength="44.3" lengthAdjust="spacingAndGlyphs">8 Jun 2021</text>
<text x="195" y="591" font-size="10" fill="#000" color="#000" textLength="48.3" lengthAdjust="spacingAndGlyphs">27 Jun 2021</text>
<text x="259" y="591" font-size="10" fill="#000" color="#000" textLength="45.1" lengthAdjust="spacingAndGlyphs">15 Jul 2021</text>
<text x="323" y="591" font-size="10" fill="#000" color="#000" textLength="47.1" lengthAdjust="spacingAndGlyphs">3 Aug 2021</text>
<text x="387" y="591" font-size="10" fill="#000" color="#000" textLength="51.5" lengthAdjust="spacingAndGlyphs">22 Aug 2021</text>
<text x="451" y="591" font-size="10" fill="#000" color="#000" textLength="46.2" lengthAdjust="spacingAndGlyphs">9 Sep 2021</text>
<text x="515" y="591" font-size="10" fill="#000" color="#000" textLength="51.5" lengthAdjust="spacingAndGlyphs">28 Sep 2021</text>
<text x="579" y="591" font-size="10" fill="#000" color="#000" textLength="50.3" lengthAdjust="spacingAndGlyphs">17 Oct 2021</text>
<text x="643" y="591" font-size="10" fill="#000" color="#000" textLength="48.3" lengthAdjust="spacingAndGlyphs">4 Nov 2021</text>
<text x="707" y="591" font-size="10" fill="#000" color="#000" textLength="53.1" lengthAdjust="spacingAndGlyphs">23 Nov 2021</text>
<text x="771" y="591" font-size="10" fill="#000" color="#000" textLength="50.7" lengthAdjust="spacingAndGlyphs">12 Dec 2021</text>
<text x="835" y="591" font-size="10" fill="#000" color="#000" textLength="51.1" lengthAdjust="spacingAndGlyphs">30 Dec 2021</text>
<text x="899" y="591" font-size="10" fill="#000" color="#000" textLength="48.7" lengthAdjust="spacingAndGlyphs">18 Jan 2022</text>
<g shape-rendering="crispEdges">
<rect x="0" y="599" width="1242" height="1" fill="#e6e6e6"/>
<rect x="0" y="600" width="1242" height="1" fill="#ffffff"/>
<rect x="0" y="601" width="1242" height="1" fill="#000"/>
<rect x="0" y="602" width="1242" height="1" fill="#fcfcfc"/>
<rect x="0" y="603" width="1242" height="18" fill="#efefef"/>
<rect x="0" y="602" width="1" height="19" fill="#5a5a5a"/>
<rect x="0" y="621" width="1242" height="1" fill="#ffffff"/>
<rect x="0" y="622" width="1242" height="3" fill="#f0f0f0"/>
<rect x="0" y="625" width="1242" height="1" fill="#a8a8a8"/>
<rect x="329" y="601" width="108" height="19" fill="#000"/>
<rect x="330" y="600" width="106" height="19" fill="#fff"/>
<rect x="328" y="602" width="1" height="18" fill="#fff"/>
<rect x="113" y="604" width="1" height="14" fill="#404040"/>
<rect x="221" y="604" width="1" height="14" fill="#404040"/>
<rect x="549" y="604" width="1" height="14" fill="#404040"/>
</g>
<path d="M1221 607 L1221 613 L1218 610 Z" fill="#8a8a8a"/>
<path d="M1237 607 L1237 613 L1240 610 Z" fill="#8a8a8a"/>
<text x="16.7" y="616" font-size="12.5" fill="#6d6d6d" color="#6d6d6d" textLength="83.6" lengthAdjust="spacingAndGlyphs" style="stroke-width:0">EURUSD-,Daily</text>
<text x="123.2" y="616" font-size="12.5" fill="#6d6d6d" color="#6d6d6d" textLength="86.6" lengthAdjust="spacingAndGlyphs" style="stroke-width:0">AUDUSD-,Daily</text>
<text x="233.3" y="616" font-size="12.5" fill="#6d6d6d" color="#6d6d6d" textLength="83.5" lengthAdjust="spacingAndGlyphs" style="stroke-width:0">USDCHF-,Daily</text>
<text x="340.6" y="616" font-size="12.5" fill="#000" color="#000" textLength="85" lengthAdjust="spacingAndGlyphs" style="stroke-width:0">USDCAD-,Daily</text>
<text x="449.4" y="616" font-size="12.5" fill="#6d6d6d" color="#6d6d6d" textLength="87.6" lengthAdjust="spacingAndGlyphs" style="stroke-width:0">USDCNH-,Daily</text>
</svg></body></html>
